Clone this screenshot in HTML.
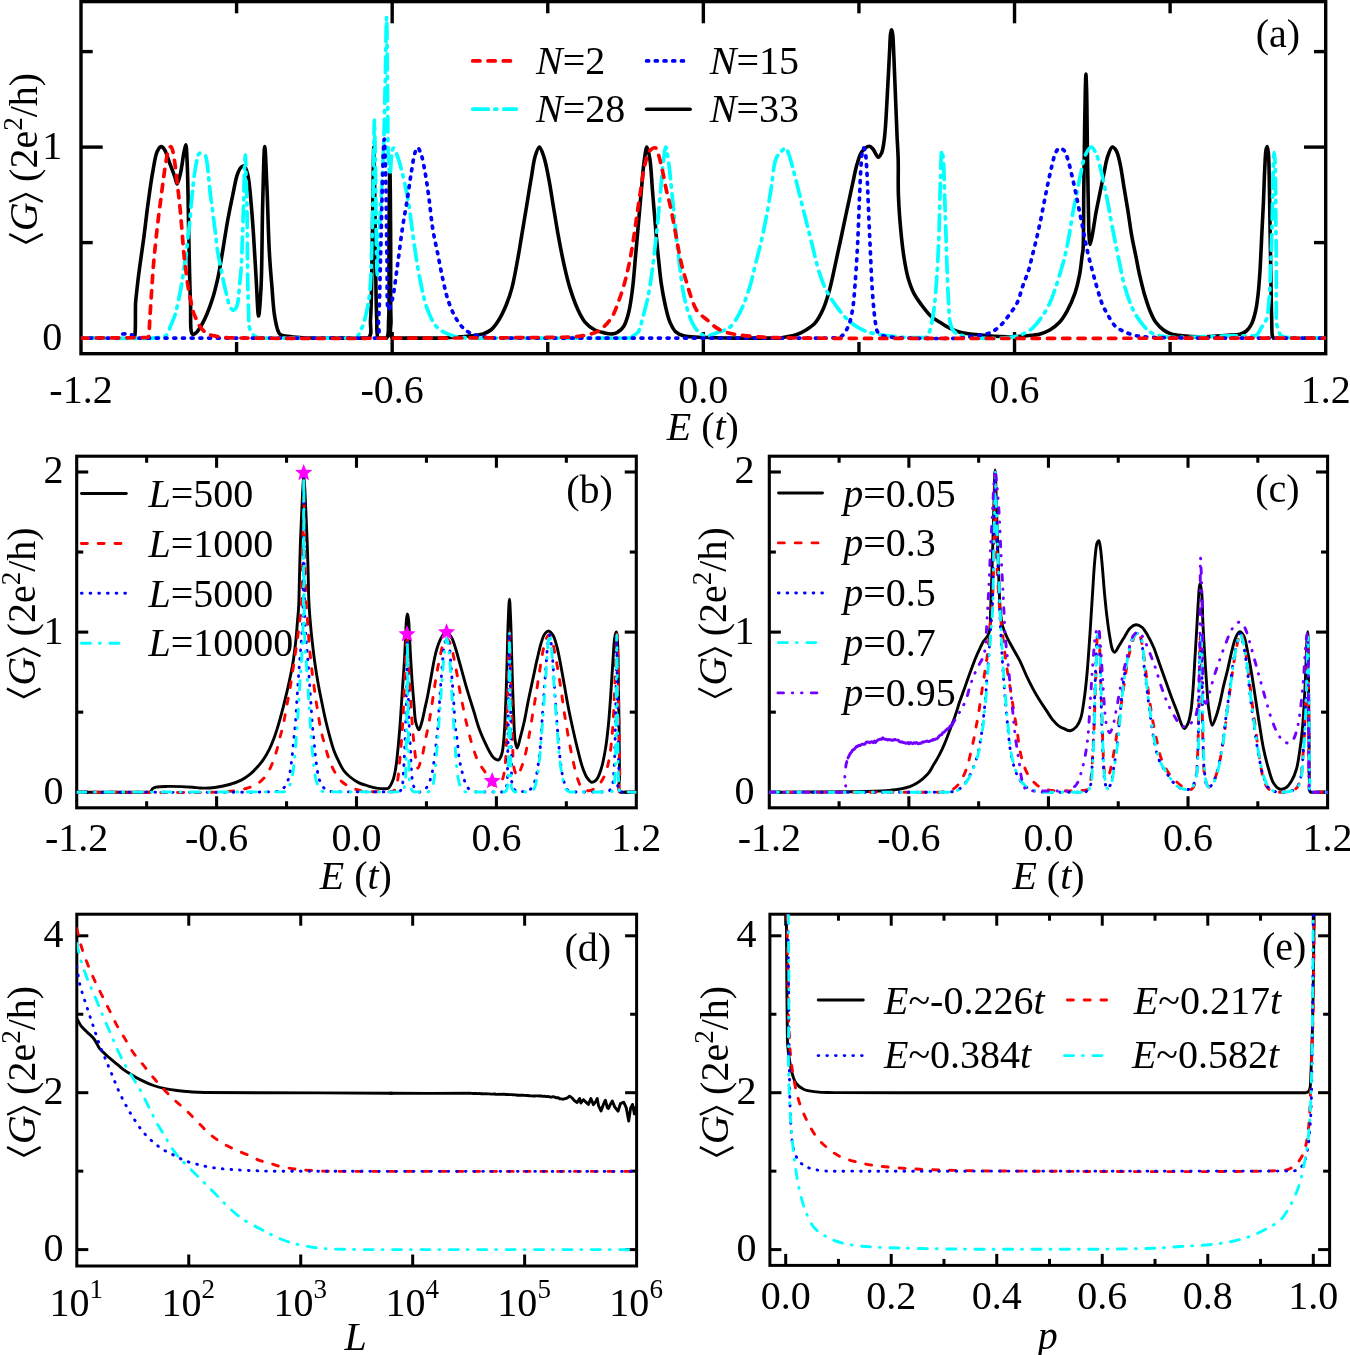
<!DOCTYPE html>
<html><head><meta charset="utf-8"><style>
html,body{margin:0;padding:0;background:#fff;}
svg{display:block;will-change:transform;}
text{font-family:"Liberation Serif",serif;fill:#000;}
</style></head><body>
<svg width="1350" height="1355" viewBox="0 0 1350 1355">
<rect width="1350" height="1355" fill="#fff"/>
<line x1="236.59" y1="353.70" x2="236.59" y2="342.00" stroke="#000" stroke-width="3.4" />
<line x1="236.59" y1="1.60" x2="236.59" y2="13.30" stroke="#000" stroke-width="3.4" />
<line x1="392.18" y1="353.70" x2="392.18" y2="332.00" stroke="#000" stroke-width="3.4" />
<line x1="392.18" y1="1.60" x2="392.18" y2="23.30" stroke="#000" stroke-width="3.4" />
<line x1="547.76" y1="353.70" x2="547.76" y2="342.00" stroke="#000" stroke-width="3.4" />
<line x1="547.76" y1="1.60" x2="547.76" y2="13.30" stroke="#000" stroke-width="3.4" />
<line x1="703.35" y1="353.70" x2="703.35" y2="332.00" stroke="#000" stroke-width="3.4" />
<line x1="703.35" y1="1.60" x2="703.35" y2="23.30" stroke="#000" stroke-width="3.4" />
<line x1="858.94" y1="353.70" x2="858.94" y2="342.00" stroke="#000" stroke-width="3.4" />
<line x1="858.94" y1="1.60" x2="858.94" y2="13.30" stroke="#000" stroke-width="3.4" />
<line x1="1014.53" y1="353.70" x2="1014.53" y2="332.00" stroke="#000" stroke-width="3.4" />
<line x1="1014.53" y1="1.60" x2="1014.53" y2="23.30" stroke="#000" stroke-width="3.4" />
<line x1="1170.11" y1="353.70" x2="1170.11" y2="342.00" stroke="#000" stroke-width="3.4" />
<line x1="1170.11" y1="1.60" x2="1170.11" y2="13.30" stroke="#000" stroke-width="3.4" />
<line x1="81.00" y1="338.10" x2="102.70" y2="338.10" stroke="#000" stroke-width="3.4" />
<line x1="1325.70" y1="338.10" x2="1304.00" y2="338.10" stroke="#000" stroke-width="3.4" />
<line x1="81.00" y1="242.60" x2="92.70" y2="242.60" stroke="#000" stroke-width="3.4" />
<line x1="1325.70" y1="242.60" x2="1314.00" y2="242.60" stroke="#000" stroke-width="3.4" />
<line x1="81.00" y1="147.10" x2="102.70" y2="147.10" stroke="#000" stroke-width="3.4" />
<line x1="1325.70" y1="147.10" x2="1304.00" y2="147.10" stroke="#000" stroke-width="3.4" />
<line x1="81.00" y1="51.60" x2="92.70" y2="51.60" stroke="#000" stroke-width="3.4" />
<line x1="1325.70" y1="51.60" x2="1314.00" y2="51.60" stroke="#000" stroke-width="3.4" />
<line x1="146.65" y1="807.80" x2="146.65" y2="801.25" stroke="#000" stroke-width="3.1" />
<line x1="146.65" y1="456.20" x2="146.65" y2="462.75" stroke="#000" stroke-width="3.1" />
<line x1="216.60" y1="807.80" x2="216.60" y2="796.25" stroke="#000" stroke-width="3.1" />
<line x1="216.60" y1="456.20" x2="216.60" y2="467.75" stroke="#000" stroke-width="3.1" />
<line x1="286.55" y1="807.80" x2="286.55" y2="801.25" stroke="#000" stroke-width="3.1" />
<line x1="286.55" y1="456.20" x2="286.55" y2="462.75" stroke="#000" stroke-width="3.1" />
<line x1="356.50" y1="807.80" x2="356.50" y2="796.25" stroke="#000" stroke-width="3.1" />
<line x1="356.50" y1="456.20" x2="356.50" y2="467.75" stroke="#000" stroke-width="3.1" />
<line x1="426.45" y1="807.80" x2="426.45" y2="801.25" stroke="#000" stroke-width="3.1" />
<line x1="426.45" y1="456.20" x2="426.45" y2="462.75" stroke="#000" stroke-width="3.1" />
<line x1="496.40" y1="807.80" x2="496.40" y2="796.25" stroke="#000" stroke-width="3.1" />
<line x1="496.40" y1="456.20" x2="496.40" y2="467.75" stroke="#000" stroke-width="3.1" />
<line x1="566.35" y1="807.80" x2="566.35" y2="801.25" stroke="#000" stroke-width="3.1" />
<line x1="566.35" y1="456.20" x2="566.35" y2="462.75" stroke="#000" stroke-width="3.1" />
<line x1="76.70" y1="792.20" x2="88.25" y2="792.20" stroke="#000" stroke-width="3.1" />
<line x1="636.30" y1="792.20" x2="624.75" y2="792.20" stroke="#000" stroke-width="3.1" />
<line x1="76.70" y1="712.15" x2="83.25" y2="712.15" stroke="#000" stroke-width="3.1" />
<line x1="636.30" y1="712.15" x2="629.75" y2="712.15" stroke="#000" stroke-width="3.1" />
<line x1="76.70" y1="632.10" x2="88.25" y2="632.10" stroke="#000" stroke-width="3.1" />
<line x1="636.30" y1="632.10" x2="624.75" y2="632.10" stroke="#000" stroke-width="3.1" />
<line x1="76.70" y1="552.05" x2="83.25" y2="552.05" stroke="#000" stroke-width="3.1" />
<line x1="636.30" y1="552.05" x2="629.75" y2="552.05" stroke="#000" stroke-width="3.1" />
<line x1="76.70" y1="472.00" x2="88.25" y2="472.00" stroke="#000" stroke-width="3.1" />
<line x1="636.30" y1="472.00" x2="624.75" y2="472.00" stroke="#000" stroke-width="3.1" />
<line x1="839.09" y1="807.80" x2="839.09" y2="801.25" stroke="#000" stroke-width="3.1" />
<line x1="839.09" y1="456.20" x2="839.09" y2="462.75" stroke="#000" stroke-width="3.1" />
<line x1="908.88" y1="807.80" x2="908.88" y2="796.25" stroke="#000" stroke-width="3.1" />
<line x1="908.88" y1="456.20" x2="908.88" y2="467.75" stroke="#000" stroke-width="3.1" />
<line x1="978.66" y1="807.80" x2="978.66" y2="801.25" stroke="#000" stroke-width="3.1" />
<line x1="978.66" y1="456.20" x2="978.66" y2="462.75" stroke="#000" stroke-width="3.1" />
<line x1="1048.45" y1="807.80" x2="1048.45" y2="796.25" stroke="#000" stroke-width="3.1" />
<line x1="1048.45" y1="456.20" x2="1048.45" y2="467.75" stroke="#000" stroke-width="3.1" />
<line x1="1118.24" y1="807.80" x2="1118.24" y2="801.25" stroke="#000" stroke-width="3.1" />
<line x1="1118.24" y1="456.20" x2="1118.24" y2="462.75" stroke="#000" stroke-width="3.1" />
<line x1="1188.02" y1="807.80" x2="1188.02" y2="796.25" stroke="#000" stroke-width="3.1" />
<line x1="1188.02" y1="456.20" x2="1188.02" y2="467.75" stroke="#000" stroke-width="3.1" />
<line x1="1257.81" y1="807.80" x2="1257.81" y2="801.25" stroke="#000" stroke-width="3.1" />
<line x1="1257.81" y1="456.20" x2="1257.81" y2="462.75" stroke="#000" stroke-width="3.1" />
<line x1="769.30" y1="792.20" x2="780.85" y2="792.20" stroke="#000" stroke-width="3.1" />
<line x1="1327.60" y1="792.20" x2="1316.05" y2="792.20" stroke="#000" stroke-width="3.1" />
<line x1="769.30" y1="712.15" x2="775.85" y2="712.15" stroke="#000" stroke-width="3.1" />
<line x1="1327.60" y1="712.15" x2="1321.05" y2="712.15" stroke="#000" stroke-width="3.1" />
<line x1="769.30" y1="632.10" x2="780.85" y2="632.10" stroke="#000" stroke-width="3.1" />
<line x1="1327.60" y1="632.10" x2="1316.05" y2="632.10" stroke="#000" stroke-width="3.1" />
<line x1="769.30" y1="552.05" x2="775.85" y2="552.05" stroke="#000" stroke-width="3.1" />
<line x1="1327.60" y1="552.05" x2="1321.05" y2="552.05" stroke="#000" stroke-width="3.1" />
<line x1="769.30" y1="472.00" x2="780.85" y2="472.00" stroke="#000" stroke-width="3.1" />
<line x1="1327.60" y1="472.00" x2="1316.05" y2="472.00" stroke="#000" stroke-width="3.1" />
<line x1="188.76" y1="1266.00" x2="188.76" y2="1254.50" stroke="#000" stroke-width="3.0" />
<line x1="188.76" y1="914.20" x2="188.76" y2="925.70" stroke="#000" stroke-width="3.0" />
<line x1="300.72" y1="1266.00" x2="300.72" y2="1254.50" stroke="#000" stroke-width="3.0" />
<line x1="300.72" y1="914.20" x2="300.72" y2="925.70" stroke="#000" stroke-width="3.0" />
<line x1="412.68" y1="1266.00" x2="412.68" y2="1254.50" stroke="#000" stroke-width="3.0" />
<line x1="412.68" y1="914.20" x2="412.68" y2="925.70" stroke="#000" stroke-width="3.0" />
<line x1="524.64" y1="1266.00" x2="524.64" y2="1254.50" stroke="#000" stroke-width="3.0" />
<line x1="524.64" y1="914.20" x2="524.64" y2="925.70" stroke="#000" stroke-width="3.0" />
<line x1="76.80" y1="1249.60" x2="88.30" y2="1249.60" stroke="#000" stroke-width="3.0" />
<line x1="636.60" y1="1249.60" x2="625.10" y2="1249.60" stroke="#000" stroke-width="3.0" />
<line x1="76.80" y1="1171.15" x2="83.30" y2="1171.15" stroke="#000" stroke-width="3.0" />
<line x1="636.60" y1="1171.15" x2="630.10" y2="1171.15" stroke="#000" stroke-width="3.0" />
<line x1="76.80" y1="1092.70" x2="88.30" y2="1092.70" stroke="#000" stroke-width="3.0" />
<line x1="636.60" y1="1092.70" x2="625.10" y2="1092.70" stroke="#000" stroke-width="3.0" />
<line x1="76.80" y1="1014.25" x2="83.30" y2="1014.25" stroke="#000" stroke-width="3.0" />
<line x1="636.60" y1="1014.25" x2="630.10" y2="1014.25" stroke="#000" stroke-width="3.0" />
<line x1="76.80" y1="935.80" x2="88.30" y2="935.80" stroke="#000" stroke-width="3.0" />
<line x1="636.60" y1="935.80" x2="625.10" y2="935.80" stroke="#000" stroke-width="3.0" />
<line x1="785.70" y1="1265.40" x2="785.70" y2="1253.90" stroke="#000" stroke-width="3.0" />
<line x1="785.70" y1="914.20" x2="785.70" y2="925.70" stroke="#000" stroke-width="3.0" />
<line x1="838.46" y1="1265.40" x2="838.46" y2="1258.90" stroke="#000" stroke-width="3.0" />
<line x1="838.46" y1="914.20" x2="838.46" y2="920.70" stroke="#000" stroke-width="3.0" />
<line x1="891.22" y1="1265.40" x2="891.22" y2="1253.90" stroke="#000" stroke-width="3.0" />
<line x1="891.22" y1="914.20" x2="891.22" y2="925.70" stroke="#000" stroke-width="3.0" />
<line x1="943.98" y1="1265.40" x2="943.98" y2="1258.90" stroke="#000" stroke-width="3.0" />
<line x1="943.98" y1="914.20" x2="943.98" y2="920.70" stroke="#000" stroke-width="3.0" />
<line x1="996.74" y1="1265.40" x2="996.74" y2="1253.90" stroke="#000" stroke-width="3.0" />
<line x1="996.74" y1="914.20" x2="996.74" y2="925.70" stroke="#000" stroke-width="3.0" />
<line x1="1049.50" y1="1265.40" x2="1049.50" y2="1258.90" stroke="#000" stroke-width="3.0" />
<line x1="1049.50" y1="914.20" x2="1049.50" y2="920.70" stroke="#000" stroke-width="3.0" />
<line x1="1102.26" y1="1265.40" x2="1102.26" y2="1253.90" stroke="#000" stroke-width="3.0" />
<line x1="1102.26" y1="914.20" x2="1102.26" y2="925.70" stroke="#000" stroke-width="3.0" />
<line x1="1155.02" y1="1265.40" x2="1155.02" y2="1258.90" stroke="#000" stroke-width="3.0" />
<line x1="1155.02" y1="914.20" x2="1155.02" y2="920.70" stroke="#000" stroke-width="3.0" />
<line x1="1207.78" y1="1265.40" x2="1207.78" y2="1253.90" stroke="#000" stroke-width="3.0" />
<line x1="1207.78" y1="914.20" x2="1207.78" y2="925.70" stroke="#000" stroke-width="3.0" />
<line x1="1260.54" y1="1265.40" x2="1260.54" y2="1258.90" stroke="#000" stroke-width="3.0" />
<line x1="1260.54" y1="914.20" x2="1260.54" y2="920.70" stroke="#000" stroke-width="3.0" />
<line x1="1313.30" y1="1265.40" x2="1313.30" y2="1253.90" stroke="#000" stroke-width="3.0" />
<line x1="1313.30" y1="914.20" x2="1313.30" y2="925.70" stroke="#000" stroke-width="3.0" />
<line x1="769.90" y1="1249.60" x2="781.40" y2="1249.60" stroke="#000" stroke-width="3.0" />
<line x1="1329.60" y1="1249.60" x2="1318.10" y2="1249.60" stroke="#000" stroke-width="3.0" />
<line x1="769.90" y1="1171.15" x2="776.40" y2="1171.15" stroke="#000" stroke-width="3.0" />
<line x1="1329.60" y1="1171.15" x2="1323.10" y2="1171.15" stroke="#000" stroke-width="3.0" />
<line x1="769.90" y1="1092.70" x2="781.40" y2="1092.70" stroke="#000" stroke-width="3.0" />
<line x1="1329.60" y1="1092.70" x2="1318.10" y2="1092.70" stroke="#000" stroke-width="3.0" />
<line x1="769.90" y1="1014.25" x2="776.40" y2="1014.25" stroke="#000" stroke-width="3.0" />
<line x1="1329.60" y1="1014.25" x2="1323.10" y2="1014.25" stroke="#000" stroke-width="3.0" />
<line x1="769.90" y1="935.80" x2="781.40" y2="935.80" stroke="#000" stroke-width="3.0" />
<line x1="1329.60" y1="935.80" x2="1318.10" y2="935.80" stroke="#000" stroke-width="3.0" />
<rect x="81.00" y="1.60" width="1244.70" height="352.10" fill="none" stroke="#000" stroke-width="3.4"/>
<rect x="76.70" y="456.20" width="559.60" height="351.60" fill="none" stroke="#000" stroke-width="3.1"/>
<rect x="769.30" y="456.20" width="558.30" height="351.60" fill="none" stroke="#000" stroke-width="3.1"/>
<rect x="76.80" y="914.20" width="559.80" height="351.80" fill="none" stroke="#000" stroke-width="3.0"/>
<rect x="769.90" y="914.20" width="559.70" height="351.20" fill="none" stroke="#000" stroke-width="3.0"/>
<defs><clipPath id="cA"><rect x="81.00" y="1.60" width="1244.70" height="352.10"/></clipPath><clipPath id="cB"><rect x="76.70" y="456.20" width="559.60" height="351.60"/></clipPath><clipPath id="cC"><rect x="769.30" y="456.20" width="558.30" height="351.60"/></clipPath><clipPath id="cD"><rect x="76.80" y="914.20" width="559.80" height="351.80"/></clipPath><clipPath id="cE"><rect x="769.90" y="914.20" width="559.70" height="351.20"/></clipPath></defs>
<path d="M133.8,338.1C134.1,337.4 134.5,337.1 134.8,335.9C135.9,331.5 135.1,311.9 135.6,302.7C136.1,296.2 136.7,291.9 137.3,286.1C138.0,279.8 138.8,273.5 139.8,266.2C141.0,257.2 142.6,246.5 144.0,236.3C145.4,225.5 146.6,214.1 148.1,203.1C149.6,192.0 151.3,179.2 153.1,169.8C154.4,162.8 155.3,155.6 157.2,151.6C158.3,149.2 159.7,146.7 161.1,146.6C162.2,146.5 163.6,148.2 164.7,149.9C166.6,152.7 168.0,158.8 169.7,163.2C171.4,167.6 173.3,172.7 174.7,176.5C175.7,179.3 176.3,184.0 177.2,184.0C178.2,183.9 179.5,177.3 180.5,173.2C181.8,167.6 182.8,158.4 183.8,153.2C184.5,149.8 185.3,144.9 185.8,144.9C186.5,145.0 186.8,154.0 187.1,161.5C188.0,177.5 188.2,212.1 188.8,236.3C189.3,259.1 189.7,284.7 190.5,302.7C191.0,315.2 189.7,332.6 192.5,334.3C193.5,334.9 195.0,333.7 196.3,332.6C198.5,330.8 200.8,326.7 202.9,322.7C205.8,317.3 208.8,309.8 211.2,302.7C213.9,295.0 216.0,286.4 217.9,277.8C219.9,268.7 221.2,259.1 222.9,249.6C224.5,239.7 226.1,229.2 227.8,219.7C229.4,211.0 231.1,202.7 232.8,194.8C234.4,187.3 235.7,178.2 237.8,173.2C239.0,170.2 240.5,167.3 242.0,166.5C242.8,166.1 243.7,166.0 244.5,166.5C245.9,167.5 246.8,171.1 247.8,174.8C249.4,181.4 250.2,193.3 251.1,203.1C252.1,213.7 252.8,224.6 253.6,236.3C254.5,249.3 255.2,264.3 256.1,277.8C256.9,290.8 257.7,316.0 258.6,316.0C259.4,316.0 260.4,298.6 261.1,286.1C262.1,265.4 262.0,228.1 262.7,203.1C263.3,182.4 263.9,146.6 264.7,146.6C265.4,146.6 266.2,171.5 266.9,186.4C267.8,205.8 268.3,234.6 269.4,252.9C270.1,265.9 270.9,275.0 271.9,286.1C272.8,297.2 273.3,310.5 275.2,319.3C276.4,325.4 277.2,331.7 280.0,334.3C282.0,336.2 285.0,335.8 288.0,336.3C291.6,336.9 295.5,337.3 300.0,337.6C305.8,338.0 311.9,338.0 320.0,338.1L368.5,338.1C372.7,334.4 370.0,327.8 370.5,320.0C371.5,305.8 371.6,280.8 372.0,260.0C372.4,237.6 372.7,210.5 373.0,190.0C373.3,173.9 373.5,147.0 373.8,147.0C374.1,147.0 374.4,173.9 374.7,190.0C375.0,210.5 375.2,237.6 375.6,260.0C375.9,280.8 376.0,305.8 376.8,320.0C377.2,327.8 375.9,335.7 378.5,338.1L386.5,338.1C389.2,335.7 388.1,328.0 388.6,320.0C389.6,304.3 388.9,272.4 389.0,250.0C389.1,229.2 389.2,204.9 389.4,190.0C389.5,181.2 389.7,169.0 389.9,169.0C390.0,169.0 390.2,181.2 390.3,190.0C390.5,204.9 390.6,229.2 390.7,250.0C390.8,272.4 390.3,304.3 391.0,320.0C391.3,328.0 388.5,334.4 392.5,338.1L440.0,338.1C448.1,337.8 454.2,337.2 460.0,336.8C464.4,336.4 467.7,336.3 471.6,335.8C475.4,335.3 479.7,335.0 483.1,333.9C486.0,332.9 488.5,331.9 490.8,330.0C493.7,327.7 496.1,324.1 498.5,320.4C501.4,316.0 504.0,310.3 506.2,305.0C508.5,299.4 510.3,294.2 512.0,287.6C514.2,279.3 516.1,267.8 517.8,258.7C519.3,250.6 520.3,243.7 521.7,235.6C523.2,226.5 524.9,216.3 526.5,206.7C528.1,197.1 529.7,186.7 531.3,177.8C532.6,170.2 533.4,162.2 535.1,156.6C536.3,152.7 537.9,147.0 539.4,147.0C540.8,147.0 542.5,152.7 543.8,156.6C545.7,162.2 547.1,170.2 548.6,177.8C550.4,186.7 551.8,197.1 553.4,206.7C555.1,216.3 556.5,226.0 558.3,235.6C560.0,245.3 562.0,255.4 564.0,264.5C565.9,272.7 567.5,280.1 569.8,287.6C572.1,294.9 574.7,302.7 577.5,308.8C579.9,313.9 582.1,318.7 585.2,322.3C588.0,325.6 591.5,328.2 594.9,330.0C597.9,331.6 601.5,332.3 604.5,332.9C607.2,333.5 609.9,334.1 612.2,333.9C614.3,333.7 616.2,333.1 618.0,331.9C620.1,330.7 622.2,328.7 623.8,326.2C625.9,322.8 627.3,317.8 628.6,312.7C630.3,306.1 631.4,297.8 632.4,289.6C633.7,280.0 634.4,269.2 635.3,258.7C636.3,248.0 637.3,236.9 638.2,226.0C639.2,215.1 640.1,204.0 641.1,193.2C642.1,182.8 642.8,170.9 644.0,162.4C644.9,156.3 645.9,147.0 646.9,147.0C647.8,146.9 649.0,153.6 649.8,158.5C651.2,167.0 651.7,181.7 652.7,193.2C653.6,204.8 654.6,216.7 655.6,227.9C656.5,238.5 657.4,249.0 658.5,258.7C659.4,267.5 660.2,275.8 661.3,283.8C662.4,291.2 663.7,298.3 665.2,305.0C666.6,311.1 667.9,317.5 670.0,322.3C671.7,326.1 673.3,329.7 675.8,331.9C678.0,333.9 680.9,335.0 683.5,335.8C686.0,336.6 687.6,336.5 691.2,336.8C699.8,337.4 720.3,337.9 735.0,338.1L780.0,338.1C783.2,337.8 784.3,337.2 786.7,336.8C789.6,336.2 793.2,335.9 796.3,334.8C799.6,333.7 802.9,332.0 806.0,330.0C809.3,327.9 812.8,325.6 815.6,322.3C818.7,318.7 821.1,313.7 823.3,308.8C825.7,303.5 827.3,297.8 829.1,291.5C831.2,283.9 833.0,274.9 834.9,266.4C836.8,257.6 838.7,248.5 840.7,239.5C842.6,230.5 844.5,221.5 846.4,212.5C848.4,203.5 850.4,194.0 852.2,185.5C853.9,178.0 855.2,170.4 857.0,164.3C858.5,159.5 859.5,154.9 861.8,151.8C863.8,149.2 867.3,146.1 869.4,146.2C870.9,146.3 872.0,148.1 873.3,149.5C875.0,151.5 876.7,157.2 878.3,157.3C879.5,157.3 880.7,154.7 881.6,152.9C882.8,150.3 883.2,146.7 883.8,142.9C884.6,138.1 885.0,132.5 885.5,126.3C886.1,118.2 886.6,107.8 887.1,98.6C887.6,89.4 888.1,79.6 888.6,70.9C889.0,63.1 889.3,55.6 889.7,48.8C890.0,42.8 890.1,35.1 890.8,32.1C891.0,31.0 891.4,29.9 891.7,29.9C892.0,30.0 892.4,32.3 892.7,34.4C893.3,38.6 893.4,47.1 893.8,54.3C894.2,62.8 894.5,72.8 894.9,82.0C895.3,91.2 895.6,100.4 896.0,109.7C896.4,118.9 896.7,128.6 897.1,137.4C897.5,145.3 898.0,151.6 898.2,160.1C898.5,170.9 897.9,184.6 898.5,197.1C899.0,209.8 900.2,224.4 901.3,235.6C902.2,244.3 903.0,251.4 904.2,258.7C905.3,265.5 906.4,272.0 908.1,278.0C909.7,283.5 911.5,288.8 913.9,293.4C916.1,297.7 918.8,301.2 921.6,305.0C924.5,308.9 927.8,313.5 931.2,316.5C934.0,319.0 937.0,320.4 940.0,322.3C943.1,324.3 946.4,326.5 949.6,328.1C952.8,329.7 955.4,330.9 959.3,331.9C964.5,333.4 971.4,334.1 978.5,334.8C987.2,335.8 998.8,336.7 1007.4,336.8C1014.5,336.8 1020.9,336.4 1026.7,335.8C1031.6,335.3 1036.1,335.0 1040.2,333.9C1043.7,332.9 1046.7,331.8 1049.8,330.0C1053.2,328.1 1056.6,325.4 1059.5,322.3C1062.5,319.0 1064.8,315.1 1067.2,310.8C1070.0,305.7 1072.8,299.4 1074.9,293.4C1077.0,287.2 1078.5,280.6 1079.7,274.1C1080.9,267.8 1081.6,259.2 1082.2,254.9C1082.5,252.7 1082.8,252.5 1083.0,250.0C1083.8,241.1 1083.5,210.0 1083.8,190.0C1084.1,170.0 1084.3,148.0 1084.6,130.0C1084.8,115.3 1085.0,100.3 1085.3,90.0C1085.5,83.5 1085.7,74.0 1085.9,74.0C1086.1,74.0 1086.4,83.0 1086.6,90.0C1087.0,103.6 1087.1,130.4 1087.4,150.0C1087.7,168.7 1088.0,189.0 1088.3,205.0C1088.6,217.4 1088.6,231.2 1089.2,238.0C1089.4,241.0 1089.7,244.5 1090.1,244.5C1090.6,244.5 1091.5,239.3 1092.2,235.6C1093.4,229.7 1094.7,219.8 1096.0,212.5C1097.2,205.8 1098.6,199.6 1099.9,193.2C1101.2,186.8 1102.5,180.2 1103.8,174.0C1105.1,168.1 1105.9,161.5 1107.6,156.6C1108.9,152.8 1110.7,147.3 1112.4,147.0C1113.7,146.8 1115.2,149.0 1116.3,150.8C1118.1,153.8 1119.0,159.2 1120.2,164.3C1121.7,171.0 1122.7,179.7 1124.0,187.4C1125.3,195.1 1126.6,202.7 1127.9,210.6C1129.2,218.7 1130.3,227.8 1131.7,235.6C1132.9,242.5 1134.3,248.5 1135.6,254.9C1136.9,261.3 1138.0,267.7 1139.4,274.1C1140.9,280.6 1142.4,287.2 1144.2,293.4C1146.0,299.4 1147.9,305.6 1150.0,310.8C1151.8,315.1 1153.4,319.0 1155.8,322.3C1158.0,325.3 1160.8,328.0 1163.5,330.0C1165.9,331.8 1168.3,332.9 1171.2,333.9C1174.6,335.0 1178.5,335.3 1182.8,335.8C1188.0,336.4 1193.6,336.8 1200.1,336.8C1208.7,336.8 1222.6,335.6 1229.8,335.1C1234.0,334.8 1236.9,335.1 1239.8,334.3C1242.3,333.6 1244.5,332.6 1246.4,331.0C1248.5,329.3 1250.0,327.1 1251.4,324.3C1253.2,320.8 1254.5,315.8 1255.6,311.0C1256.8,305.8 1257.4,300.5 1258.1,294.4C1258.9,287.0 1259.5,278.4 1260.1,269.5C1260.7,259.2 1261.2,247.4 1261.7,236.3C1262.3,225.2 1262.9,214.1 1263.4,203.1C1263.9,192.0 1264.2,179.5 1264.7,169.8C1265.1,162.3 1265.3,153.7 1266.0,149.9C1266.4,148.3 1266.9,146.6 1267.2,146.6C1267.7,146.6 1268.1,150.1 1268.4,153.2C1269.1,160.1 1269.1,174.3 1269.4,186.4C1269.7,201.4 1269.9,219.7 1270.2,236.3C1270.5,252.9 1270.8,271.2 1271.0,286.1C1271.3,298.3 1271.4,310.2 1271.7,319.3C1271.9,325.8 1271.6,333.1 1272.4,335.9C1272.7,337.1 1273.1,337.4 1273.5,338.1" fill="none" stroke="#000000" stroke-width="3.6" stroke-linecap="round" stroke-linejoin="round" clip-path="url(#cA)"/>
<path d="M81.0,338.1C108.4,337.7 153.1,339.6 163.1,336.8C165.5,336.1 166.1,335.6 167.2,334.3C168.8,332.5 169.4,328.9 170.5,326.0C171.8,322.8 173.5,319.6 174.7,316.0C176.0,311.9 177.0,307.4 178.0,302.7C179.2,297.5 180.4,291.7 181.3,286.1C182.3,280.6 183.0,275.0 183.8,269.5C184.7,264.0 185.6,258.4 186.3,252.9C187.0,247.4 187.4,241.5 188.0,236.3C188.5,231.6 189.1,227.9 189.6,223.0C190.3,217.0 190.7,209.4 191.3,203.1C191.8,197.3 192.4,191.7 193.0,186.4C193.5,181.8 194.0,177.3 194.6,173.2C195.1,169.6 195.7,166.3 196.3,163.2C196.8,160.5 197.2,157.5 197.9,155.7C198.4,154.6 198.8,153.5 199.6,153.2C200.4,152.9 201.9,153.6 202.9,154.1C203.9,154.5 204.8,154.8 205.4,155.7C206.4,157.2 206.6,160.3 207.1,163.2C207.8,167.3 208.2,173.0 208.7,178.1C209.3,183.5 209.7,189.1 210.4,194.8C211.1,200.7 212.1,206.8 212.9,213.0C213.7,219.5 214.6,226.3 215.4,233.0C216.2,239.6 216.8,246.6 217.9,252.9C218.8,258.7 220.1,264.0 221.2,269.5C222.3,275.0 223.4,281.3 224.5,286.1C225.4,289.9 226.2,292.8 227.0,296.1C227.8,299.4 228.4,303.7 229.5,306.0C230.2,307.5 231.2,308.7 232.0,309.4C232.5,309.8 233.1,310.3 233.7,310.2C234.4,310.1 235.5,308.8 236.1,307.7C237.0,306.4 237.3,304.9 237.8,302.7C238.6,298.8 238.9,291.7 239.5,286.1C240.0,280.6 240.7,276.0 241.1,269.5C241.8,260.3 242.0,247.4 242.5,236.3C242.9,225.2 243.3,214.1 243.6,203.1C244.0,192.0 244.1,178.7 244.5,169.8C244.7,163.9 245.0,154.9 245.3,154.9C245.6,154.9 245.8,170.3 246.1,178.1C246.4,186.3 246.7,193.3 246.9,203.1C247.2,216.8 247.3,238.0 247.4,252.9C247.6,265.1 247.6,275.8 247.8,286.1C248.0,295.0 248.3,303.6 248.6,311.0C248.9,317.1 248.4,323.8 249.4,327.6C250.0,329.9 251.0,331.2 251.9,332.6C252.7,333.9 253.3,335.1 254.4,335.9C255.8,337.0 256.9,337.5 260.0,338.1L356.0,338.1C357.8,337.2 357.6,336.4 358.5,335.0C359.9,332.7 361.7,328.7 363.0,325.0C364.6,320.6 365.9,315.4 367.0,310.0C368.3,303.8 369.2,298.2 370.0,290.0C371.2,277.1 371.4,258.1 372.0,240.0C372.7,218.6 373.1,191.4 373.5,170.0C373.9,151.9 374.1,120.0 374.4,120.0C374.7,120.0 375.1,151.9 375.4,170.0C375.8,191.4 375.9,220.7 376.3,240.0C376.6,253.7 376.9,275.0 377.3,275.0C377.6,275.0 378.0,259.8 378.5,250.0C379.2,236.2 380.2,216.7 381.0,200.0C381.8,183.3 382.8,168.1 383.5,150.0C384.3,128.6 384.8,102.7 385.3,80.0C385.8,58.4 386.2,17.0 386.6,17.0C387.0,17.0 387.3,74.6 387.6,100.0C387.9,121.6 387.7,146.7 388.5,160.0C388.9,166.7 389.5,175.0 390.0,175.0C390.6,175.0 391.0,156.5 392.0,152.0C392.4,150.1 392.8,148.0 393.4,148.0C394.3,147.9 395.8,152.1 397.0,155.0C398.8,159.5 400.6,166.2 402.3,173.0C404.5,181.8 406.9,192.8 408.7,203.6C410.7,215.6 411.9,229.0 413.8,241.7C415.7,254.4 417.6,267.9 420.1,279.9C422.3,290.7 424.3,301.8 427.8,310.4C430.6,317.3 433.4,323.9 437.9,328.2C442.0,332.1 448.0,334.3 453.2,335.9C458.2,337.5 460.7,337.5 468.5,338.1L630.0,338.1C632.2,337.4 632.2,336.7 633.4,335.8C634.9,334.7 636.9,334.0 638.2,331.9C640.4,328.7 641.5,322.0 643.0,316.5C644.7,310.5 646.5,304.0 647.9,297.3C649.4,289.9 650.6,281.9 651.7,274.1C652.8,266.4 653.7,259.0 654.6,251.0C655.6,242.4 656.6,233.3 657.5,224.0C658.5,214.1 659.4,203.5 660.4,193.2C661.3,182.9 662.2,170.9 663.3,162.4C664.0,156.4 664.9,147.0 665.8,147.0C666.5,147.0 667.4,153.9 668.1,158.5C669.2,165.3 670.1,174.9 671.0,183.6C672.0,192.9 672.9,202.9 673.9,212.5C674.8,222.1 675.8,232.1 676.8,241.4C677.7,250.0 678.6,257.9 679.7,266.4C680.8,275.3 681.9,285.2 683.5,293.4C684.9,300.4 686.4,306.9 688.3,312.7C690.0,317.6 691.8,322.4 694.1,326.2C696.1,329.3 698.3,332.1 700.8,333.9C703.2,335.5 707.2,337.0 708.6,336.8C709.1,336.7 709.0,336.2 709.6,335.8C711.2,334.8 716.1,333.2 719.3,331.9C722.5,330.7 726.1,330.2 728.9,328.1C732.0,325.8 734.3,322.1 736.6,318.5C739.2,314.5 741.3,309.9 743.4,305.0C745.8,299.2 748.1,292.5 750.1,285.7C752.3,278.4 753.9,270.3 755.9,262.6C757.8,254.9 759.9,247.2 761.7,239.5C763.4,231.8 764.9,224.5 766.5,216.3C768.2,207.3 769.7,197.1 771.3,187.4C772.9,177.8 773.4,164.9 776.1,158.5C777.7,154.9 780.0,152.7 781.9,150.8C783.2,149.5 784.7,147.7 785.7,147.9C787.0,148.2 787.6,151.1 788.6,153.7C790.4,158.4 792.5,167.0 794.4,173.9C796.4,181.4 798.3,189.4 800.2,197.1C802.1,204.8 804.0,212.5 806.0,220.2C807.9,227.9 809.8,235.6 811.8,243.3C813.7,251.0 815.5,259.3 817.5,266.4C819.3,272.7 821.2,278.6 823.3,283.8C825.1,288.1 826.9,291.6 829.1,295.3C831.4,299.3 834.0,303.1 836.8,306.9C839.7,310.8 843.0,315.1 846.4,318.5C849.5,321.5 852.6,323.9 856.1,326.2C859.6,328.4 863.5,330.5 867.6,331.9C871.9,333.4 876.5,334.0 881.1,334.8C886.1,335.7 891.4,336.3 896.5,336.8C901.7,337.2 907.0,337.6 911.9,337.7L925.4,337.7C927.5,336.6 928.2,334.3 929.3,331.9C930.7,328.8 931.3,324.7 932.2,320.4C933.2,315.2 934.0,309.6 934.7,303.0C935.6,294.6 936.3,284.5 937.0,274.1C937.8,262.2 938.4,249.8 938.9,235.6C939.6,218.3 939.9,193.4 940.5,177.8C940.9,167.1 941.1,150.9 941.8,150.8C942.2,150.8 942.8,155.0 943.2,158.5C944.0,166.5 944.2,182.9 944.7,197.1C945.3,214.4 946.0,236.5 946.6,254.9C947.2,271.7 947.7,290.2 948.6,303.0C949.1,311.5 949.0,319.0 950.5,324.2C951.4,327.6 952.5,330.2 954.3,331.9C955.9,333.5 957.9,334.0 960.1,334.8C962.7,335.8 964.9,336.8 968.9,337.3C977.2,338.5 997.9,338.7 1007.4,337.7C1013.1,337.2 1016.7,336.5 1020.9,334.8C1025.1,333.2 1029.0,331.0 1032.5,328.1C1036.1,325.0 1039.2,320.7 1042.1,316.5C1045.0,312.3 1047.6,307.8 1049.8,303.0C1052.1,298.2 1053.8,292.8 1055.6,287.6C1057.4,282.5 1058.9,277.5 1060.4,272.2C1062.1,266.6 1063.8,260.8 1065.2,254.9C1066.7,248.6 1067.9,242.3 1069.1,235.6C1070.4,228.3 1071.6,219.8 1072.9,212.5C1074.2,205.8 1075.5,199.6 1076.8,193.2C1078.1,186.8 1079.2,180.4 1080.7,173.9C1082.1,167.5 1083.2,159.5 1085.5,154.7C1087.1,151.3 1089.4,147.0 1091.3,147.0C1092.9,147.0 1094.7,150.8 1096.1,153.7C1098.1,157.9 1099.5,164.5 1100.9,170.1C1102.3,175.8 1103.5,181.5 1104.7,187.4C1106.1,193.7 1107.3,200.1 1108.6,206.7C1109.9,213.6 1111.1,221.0 1112.4,227.9C1113.7,234.5 1115.0,240.7 1116.3,247.2C1117.6,253.6 1118.8,260.2 1120.2,266.4C1121.4,272.4 1122.5,278.2 1124.0,283.8C1125.4,289.1 1127.0,294.3 1128.8,299.2C1130.6,303.9 1132.3,308.5 1134.6,312.7C1136.8,316.8 1139.6,320.9 1142.3,324.2C1144.7,327.2 1147.1,330.0 1150.0,331.9C1152.9,333.8 1156.2,334.9 1159.7,335.8C1163.3,336.7 1165.9,337.0 1171.2,337.3C1183.2,338.0 1214.3,336.1 1229.8,335.9L1255.6,335.9C1258.8,334.2 1259.6,330.4 1261.4,327.6C1263.2,324.9 1265.2,322.7 1266.4,319.3C1268.0,314.9 1268.2,309.2 1268.9,302.7C1269.8,293.6 1270.0,281.7 1270.5,269.5C1271.2,254.6 1271.7,236.9 1272.2,219.7C1272.7,201.0 1273.0,172.5 1273.5,161.5C1273.7,157.2 1273.9,152.4 1274.2,152.4C1274.4,152.4 1274.8,157.2 1275.0,161.5C1275.6,172.5 1275.6,201.0 1275.8,219.7C1276.1,236.9 1276.3,254.6 1276.3,269.5C1276.4,281.7 1276.3,292.8 1276.3,302.7C1276.4,310.7 1275.8,319.2 1276.7,324.3C1277.2,327.2 1278.0,328.9 1278.8,331.0C1279.6,332.8 1279.3,334.7 1281.3,335.9C1286.9,339.6 1310.9,337.4 1325.7,338.1" fill="none" stroke="#00ffff" stroke-width="3.7" stroke-dasharray="15.7 6.3 2.2 6.8" stroke-linecap="round" stroke-linejoin="round" clip-path="url(#cA)"/>
<path d="M81.0,338.1L118.0,338.1C119.9,337.2 119.6,335.2 121.0,334.5C122.5,333.7 125.1,333.9 127.0,334.0C128.7,334.1 130.6,334.3 132.0,335.0C133.3,335.7 132.8,337.2 135.0,338.1L376.0,338.1C381.4,333.4 377.8,327.8 378.5,320.0C379.7,305.8 379.9,281.4 380.5,260.0C381.2,235.2 381.8,202.2 382.5,180.0C383.0,164.1 383.6,139.0 384.2,139.0C384.7,139.0 385.4,164.1 385.8,180.0C386.4,202.2 386.5,236.5 387.0,260.0C387.4,278.6 386.5,309.7 388.5,310.0C389.4,310.1 391.0,304.6 392.1,300.3C394.1,292.6 395.6,278.6 397.2,267.2C399.0,254.9 400.5,241.0 402.3,229.0C403.9,218.2 405.9,208.2 407.4,198.5C408.8,189.6 409.9,181.0 411.2,173.0C412.4,165.8 413.5,157.1 415.0,152.7C415.8,150.4 416.7,147.6 417.6,147.6C418.8,147.6 420.3,152.0 421.4,155.2C423.0,159.8 424.0,166.5 425.2,173.0C426.6,180.7 427.8,189.6 429.0,198.5C430.3,208.2 431.2,219.3 432.8,229.0C434.2,237.9 436.2,246.0 437.9,254.5C439.6,263.0 441.2,271.9 443.0,279.9C444.6,287.1 445.9,293.8 448.1,300.3C450.2,306.5 452.9,313.0 455.8,318.0C458.1,322.0 460.5,325.5 463.4,328.2C466.0,330.7 468.9,332.6 472.0,334.0C475.1,335.4 478.4,335.8 482.0,336.5C486.0,337.2 487.7,337.7 495.0,338.1L830.0,338.1C836.0,337.7 837.9,338.3 840.7,336.8C843.2,335.4 844.9,332.6 846.4,330.0C848.1,327.2 849.2,324.0 850.3,320.4C851.6,315.9 852.4,310.5 853.2,305.0C854.1,298.5 854.5,291.4 855.1,283.8C855.8,274.9 856.5,264.5 857.0,254.9C857.6,245.2 858.0,235.6 858.4,226.0C858.8,216.3 859.1,206.7 859.5,197.1C860.0,187.4 860.3,176.3 860.9,168.2C861.3,162.2 861.5,156.4 862.2,152.8C862.7,150.7 863.3,147.9 863.8,147.9C864.3,147.9 864.9,150.7 865.3,152.8C866.1,156.4 866.3,162.2 866.7,168.2C867.2,176.3 867.6,187.4 868.0,197.1C868.4,206.7 868.8,216.3 869.2,226.0C869.6,235.6 870.1,245.2 870.5,254.9C871.0,264.5 871.3,274.5 871.9,283.8C872.4,292.4 873.1,301.5 873.8,308.8C874.4,314.6 874.9,320.0 875.7,324.2C876.3,327.3 876.3,330.0 877.6,331.9C878.9,333.7 880.9,334.9 883.0,335.8C885.7,336.9 888.0,336.9 892.7,337.3C905.0,338.4 948.0,338.9 960.0,338.1C964.4,337.8 965.6,337.2 968.9,336.8C972.9,336.2 978.3,335.7 982.4,334.8C985.9,334.1 989.0,333.6 992.0,331.9C995.4,330.2 998.8,327.1 1001.7,324.2C1004.5,321.3 1006.9,318.0 1009.4,314.6C1012.0,311.0 1014.9,307.5 1017.1,303.0C1019.5,298.0 1020.9,291.3 1022.9,285.7C1024.7,280.4 1027.0,275.5 1028.6,270.3C1030.2,265.2 1031.2,260.0 1032.5,254.9C1033.8,249.7 1035.1,244.8 1036.3,239.5C1037.7,233.9 1038.9,228.1 1040.2,222.1C1041.5,215.9 1042.8,209.3 1044.0,202.9C1045.3,196.4 1046.6,189.8 1047.9,183.6C1049.2,177.6 1050.4,171.6 1051.8,166.2C1053.0,161.4 1053.9,156.0 1055.6,152.8C1056.7,150.6 1058.0,148.2 1059.5,147.9C1060.9,147.7 1063.0,149.3 1064.3,150.8C1066.1,152.9 1067.0,156.8 1068.1,160.5C1069.6,165.0 1070.7,170.6 1072.0,175.9C1073.3,181.5 1074.6,187.3 1075.8,193.2C1077.2,199.5 1078.4,206.1 1079.7,212.5C1081.0,218.9 1082.3,225.3 1083.5,231.8C1084.8,238.2 1086.0,244.6 1087.4,251.0C1088.8,257.5 1090.6,264.0 1092.2,270.3C1093.8,276.2 1095.4,282.0 1097.0,287.6C1098.6,292.9 1100.0,298.3 1101.8,303.0C1103.5,307.2 1105.4,310.8 1107.6,314.6C1109.9,318.5 1112.2,323.2 1115.3,326.2C1118.1,328.8 1121.5,330.4 1125.0,331.9C1128.6,333.6 1132.3,334.9 1136.5,335.8C1141.2,336.8 1145.4,337.0 1151.9,337.3C1163.5,338.0 1180.2,337.9 1200.0,338.1L1325.7,338.1" fill="none" stroke="#0000ff" stroke-width="3.7" stroke-dasharray="2.0 6.72" stroke-linecap="round" stroke-linejoin="round" clip-path="url(#cA)"/>
<path d="M81.0,338.1C101.7,337.9 134.0,337.9 143.1,337.6C145.7,337.5 147.2,338.0 148.1,337.3C148.8,336.7 148.7,335.7 148.9,334.3C149.4,331.2 149.4,325.0 149.8,319.3C150.2,312.1 150.9,302.7 151.4,294.4C152.0,286.1 152.5,277.5 153.1,269.5C153.7,262.0 154.4,255.0 155.1,247.9C155.8,241.1 156.5,234.5 157.2,228.0C157.9,221.7 158.7,215.5 159.4,209.7C160.1,204.5 160.8,199.6 161.4,194.8C162.0,190.2 162.5,185.7 163.1,181.5C163.6,177.5 164.2,173.6 164.7,169.8C165.3,166.2 165.8,162.3 166.4,159.0C166.9,156.3 167.4,153.7 168.0,151.6C168.5,150.0 169.0,148.2 169.7,147.4C170.1,146.9 170.6,146.4 171.0,146.6C171.7,146.8 172.2,149.2 172.7,150.7C173.2,152.5 173.5,154.3 173.9,156.5C174.4,159.7 175.0,164.0 175.5,168.2C176.1,172.8 176.6,178.3 177.2,183.1C177.7,187.7 178.3,191.7 178.8,196.4C179.4,201.6 180.0,207.2 180.5,213.0C181.1,219.4 181.6,226.3 182.2,233.0C182.7,239.6 183.2,246.6 183.8,252.9C184.4,258.7 185.1,264.0 185.8,269.5C186.5,275.0 187.1,280.9 188.0,286.1C188.7,290.8 189.6,295.1 190.5,299.4C191.3,303.4 191.9,307.5 193.0,311.0C193.9,314.1 195.1,316.7 196.3,319.3C197.3,321.7 198.3,324.0 199.6,326.0C200.8,327.8 202.3,329.5 203.8,331.0C205.1,332.3 206.3,333.5 207.9,334.3C209.8,335.2 212.3,335.4 214.6,335.9C216.8,336.4 218.2,336.9 221.2,337.3C227.4,338.0 235.3,337.9 250.0,338.1C297.9,338.7 515.4,338.0 556.3,337.3C566.6,337.2 570.0,337.3 575.6,336.8C580.0,336.3 583.5,335.7 587.2,334.8C590.6,334.0 593.9,333.4 596.8,331.9C599.7,330.5 602.1,328.5 604.5,326.2C607.3,323.5 610.0,320.2 612.2,316.5C614.6,312.6 616.2,307.9 618.0,303.0C620.0,297.7 622.0,291.7 623.8,285.7C625.6,279.5 627.1,273.4 628.6,266.4C630.4,258.2 632.0,248.5 633.4,239.5C634.9,230.5 636.0,221.3 637.3,212.5C638.5,204.0 639.8,195.6 641.1,187.4C642.4,179.6 643.3,170.9 645.0,164.3C646.3,159.1 647.4,153.5 649.8,150.8C651.4,149.0 654.1,147.4 655.6,147.9C657.1,148.5 657.5,151.9 658.5,154.7C659.8,158.7 661.1,164.7 662.3,170.1C663.7,176.1 664.8,183.3 666.2,189.4C667.4,194.8 668.8,199.3 670.0,204.8C671.4,210.8 672.6,217.5 673.9,224.0C675.2,230.9 676.4,238.3 677.7,245.2C679.0,251.8 680.1,258.3 681.6,264.5C683.0,270.5 684.7,276.3 686.4,281.8C688.0,287.2 689.4,292.3 691.2,297.3C692.9,302.0 694.2,306.9 697.0,310.8C699.7,314.6 704.4,317.5 707.7,320.4C710.5,322.8 712.6,325.2 715.4,327.1C718.3,329.1 721.5,330.7 725.0,331.9C729.1,333.4 733.6,334.1 738.5,334.8C744.4,335.7 751.4,336.3 757.8,336.8C764.2,337.2 766.2,337.5 777.1,337.7C834.8,339.2 1142.8,338.0 1325.7,338.1" fill="none" stroke="#ff0000" stroke-width="3.7" stroke-dasharray="7.2 8.05" stroke-linecap="round" stroke-linejoin="round" clip-path="url(#cA)"/>
<line x1="472.75" y1="60.96" x2="516.25" y2="60.96" stroke="#ff0000" stroke-width="3.7" stroke-dasharray="7.2 8.05" stroke-linecap="round"/>
<line x1="472.75" y1="109.2" x2="516.25" y2="109.2" stroke="#00ffff" stroke-width="3.7" stroke-dasharray="15.7 6.3 2.2 6.8" stroke-linecap="round"/>
<line x1="646.6" y1="60.96" x2="690.1" y2="60.96" stroke="#0000ff" stroke-width="3.7" stroke-dasharray="2.0 6.72" stroke-linecap="round"/>
<line x1="646.6" y1="109.2" x2="690.1" y2="109.2" stroke="#000000" stroke-width="3.6" stroke-linecap="round"/>
<text x="536.00" y="73.50" text-anchor="start" font-size="40" ><tspan font-style="italic">N</tspan>=2</text>
<text x="536.00" y="122.00" text-anchor="start" font-size="40" ><tspan font-style="italic">N</tspan>=28</text>
<text x="709.70" y="73.50" text-anchor="start" font-size="40" ><tspan font-style="italic">N</tspan>=15</text>
<text x="709.70" y="122.00" text-anchor="start" font-size="40" ><tspan font-style="italic">N</tspan>=33</text>
<path d="M76.7,792.2L150.0,792.2C151.9,791.3 151.5,789.5 152.6,788.7C153.6,787.9 154.5,787.6 156.0,787.2C158.7,786.5 163.0,786.5 167.6,786.4C174.4,786.3 186.8,786.8 192.7,787.2C195.9,787.4 197.1,787.9 200.0,788.0C204.1,788.2 209.9,788.1 214.8,787.5C219.7,786.9 224.9,785.8 229.5,784.5C233.7,783.3 237.7,781.9 241.3,780.1C244.6,778.4 247.5,776.4 250.2,774.2C252.9,772.0 255.3,769.3 257.6,766.8C259.8,764.4 261.6,762.1 263.5,759.4C265.6,756.3 267.7,752.6 269.4,749.1C271.1,745.7 272.4,742.4 273.8,738.7C275.4,734.6 276.8,729.9 278.2,725.5C279.5,721.1 280.7,716.8 281.9,712.2C283.2,707.4 284.4,702.5 285.6,697.4C286.9,692.1 288.2,686.5 289.3,681.2C290.4,676.2 291.4,671.3 292.3,666.4C293.2,661.5 293.9,656.6 294.5,651.7C295.2,646.8 295.7,641.8 296.2,636.9C296.7,632.0 297.0,627.0 297.4,622.1C297.8,617.2 298.3,613.3 298.6,607.4C299.1,598.7 299.2,586.0 299.5,575.0C299.8,563.6 300.1,551.2 300.5,540.0C300.9,529.6 301.4,519.3 301.8,510.0C302.2,501.8 302.5,493.2 302.9,487.0C303.2,482.8 303.5,476.5 303.8,476.5C304.1,476.5 304.4,482.8 304.7,487.0C305.1,493.2 305.4,501.8 305.8,510.0C306.2,519.3 306.7,529.6 307.1,540.0C307.5,551.2 307.9,564.3 308.2,575.0C308.5,584.0 308.4,591.9 308.8,600.0C309.1,607.6 309.7,614.7 310.3,622.1C310.9,629.5 311.7,637.2 312.5,644.2C313.2,650.4 313.9,655.9 314.7,661.9C315.6,668.2 316.6,674.7 317.7,681.1C318.8,687.5 320.1,694.0 321.4,700.3C322.6,706.3 323.8,712.1 325.1,718.0C326.5,723.9 328.0,730.1 329.5,735.7C330.9,740.8 332.2,745.8 333.9,750.4C335.4,754.6 337.3,758.6 339.1,762.2C340.7,765.4 342.2,768.5 344.2,771.1C346.0,773.4 347.8,775.1 350.1,777.0C352.7,779.1 355.9,781.4 359.0,782.9C361.9,784.3 364.8,784.9 367.8,785.8C370.7,786.7 373.9,787.6 376.7,788.1C379.3,788.5 382.0,788.9 384.1,788.8C385.8,788.7 387.2,789.0 388.5,788.1C390.4,786.8 391.8,783.2 393.0,780.1C394.4,776.3 395.1,771.7 395.9,766.8C396.9,761.0 397.4,754.2 398.1,747.6C398.8,740.5 399.4,732.9 400.0,725.5C400.6,718.1 401.0,710.7 401.5,703.3C402.0,695.9 402.5,688.6 403.0,681.2C403.5,673.8 404.1,666.4 404.5,659.0C404.9,651.6 405.2,643.9 405.6,636.9C405.9,630.7 406.0,623.3 406.5,619.2C406.8,616.9 407.1,614.0 407.4,614.0C407.7,614.0 408.2,616.9 408.5,619.2C409.1,623.3 409.2,630.7 409.5,636.9C409.9,643.9 410.3,651.6 410.7,659.0C411.1,666.4 411.6,673.8 412.1,681.2C412.6,688.6 413.3,696.2 413.9,703.3C414.5,709.9 414.6,717.7 415.8,722.5C416.6,725.6 417.8,729.9 418.8,729.9C419.8,729.9 420.8,725.4 421.7,722.5C422.9,718.7 423.7,713.6 424.7,709.2C425.7,704.8 426.7,700.6 427.6,695.9C428.6,690.8 429.6,685.1 430.6,679.7C431.6,674.3 432.5,668.6 433.5,663.5C434.4,658.8 435.3,654.3 436.5,650.2C437.6,646.5 438.7,642.9 440.2,639.9C441.5,637.3 442.9,634.1 444.6,633.2C445.7,632.6 447.2,632.6 448.3,633.2C449.8,633.9 450.9,636.3 452.0,638.4C453.4,641.2 454.5,645.0 455.7,648.7C457.0,652.8 458.2,657.6 459.4,662.0C460.6,666.4 461.9,670.9 463.1,675.3C464.3,679.7 465.5,684.3 466.8,688.6C468.0,692.7 469.2,696.5 470.4,700.4C471.6,704.3 472.9,708.4 474.1,712.2C475.2,715.7 476.1,719.2 477.1,722.5C478.0,725.5 478.9,728.1 480.0,731.1C481.3,734.5 483.0,738.5 484.7,741.9C486.2,745.2 487.7,748.4 489.3,751.2C490.8,753.8 492.1,756.8 494.0,758.2C495.3,759.3 497.4,760.2 498.6,759.8C500.0,759.2 500.9,756.8 501.7,754.3C503.1,750.3 503.4,743.8 504.0,737.3C504.8,728.5 505.1,717.7 505.6,706.3C506.2,692.3 506.7,674.6 507.1,659.8C507.5,646.3 507.7,632.1 508.2,621.0C508.6,612.7 509.0,599.3 509.5,599.3C509.9,599.3 510.3,612.7 510.7,621.0C511.2,632.1 511.4,646.3 511.8,659.8C512.2,674.6 512.7,691.8 513.3,706.3C513.9,719.0 514.1,735.0 515.3,741.9C515.9,744.9 516.5,748.1 517.2,748.1C518.1,748.1 519.3,741.2 520.3,737.3C521.6,732.6 523.0,727.3 524.2,721.8C525.6,715.5 526.7,708.5 528.1,701.6C529.5,694.5 531.2,687.2 532.7,679.9C534.3,672.7 535.8,664.8 537.4,658.2C538.7,652.6 539.8,647.2 541.2,642.7C542.4,639.2 543.4,635.3 545.1,633.4C546.2,632.1 547.8,630.9 549.0,631.1C550.4,631.3 551.7,633.2 552.9,635.0C554.5,637.5 555.6,641.7 556.7,645.8C558.2,651.1 559.4,658.0 560.6,664.4C562.0,671.4 563.2,678.9 564.5,686.1C565.8,693.4 567.0,700.6 568.4,707.8C569.8,715.1 571.4,722.4 573.0,729.5C574.5,736.4 576.1,743.3 577.7,749.7C579.2,755.6 580.6,761.8 582.3,766.7C583.7,770.8 585.1,774.9 587.0,777.6C588.4,779.6 590.0,782.0 591.6,782.2C593.1,782.5 594.9,781.3 596.3,779.9C598.3,777.9 599.6,773.9 600.9,769.8C602.9,764.1 604.3,755.8 605.6,748.1C607.0,739.8 607.8,730.9 608.7,721.8C609.6,711.9 610.3,701.1 611.0,690.8C611.7,680.4 612.3,669.4 613.0,659.8C613.6,651.5 613.9,641.3 614.9,636.5C615.3,634.3 616.0,631.8 616.4,631.9C617.1,631.9 617.4,639.0 617.7,644.3C618.2,653.6 618.2,669.5 618.4,683.0C618.7,697.8 618.9,714.0 619.1,729.5C619.3,745.0 619.3,764.5 619.5,776.0C619.7,782.9 617.2,789.6 620.0,792.3L636.3,792.2" fill="none" stroke="#000000" stroke-width="2.9" stroke-linecap="round" stroke-linejoin="round" clip-path="url(#cB)"/>
<path d="M76.7,792.2C125.2,792.1 198.7,793.1 222.1,791.9C229.6,791.5 232.4,791.1 236.9,790.4C240.7,789.8 243.9,789.2 247.2,788.2C250.3,787.2 253.4,786.1 256.1,784.5C258.8,782.9 261.3,781.0 263.5,778.6C265.8,776.1 267.7,772.9 269.4,769.7C271.1,766.5 272.5,763.0 273.8,759.4C275.2,755.6 276.4,751.6 277.5,747.6C278.6,743.7 279.4,739.7 280.4,735.8C281.4,731.9 282.5,727.9 283.4,724.0C284.3,720.1 284.9,716.1 285.6,712.2C286.3,708.3 287.1,704.3 287.8,700.4C288.5,696.5 289.3,692.8 290.0,688.6C290.8,684.0 291.5,678.7 292.3,673.8C293.0,668.9 293.8,663.9 294.5,659.0C295.2,654.1 296.0,649.2 296.7,644.3C297.4,639.4 298.0,634.4 298.6,629.5C299.2,624.6 299.9,619.7 300.4,614.8C300.9,609.9 301.4,606.1 301.8,600.0C302.4,589.9 302.4,573.3 302.7,560.0C302.9,546.7 303.1,533.6 303.3,520.0C303.5,505.9 303.6,477.0 303.8,477.0C304.0,477.0 304.1,505.9 304.3,520.0C304.5,533.6 304.7,546.7 305.0,560.0C305.3,573.3 305.4,588.6 306.0,600.0C306.4,608.5 307.1,614.7 307.6,622.1C308.1,629.5 308.6,637.2 309.2,644.2C309.7,650.4 310.3,656.0 310.9,661.9C311.6,667.8 312.3,673.7 313.1,679.6C313.9,685.5 314.7,691.7 315.5,697.3C316.3,702.5 317.0,706.9 317.9,712.1C318.8,717.7 319.7,724.2 320.9,729.8C322.0,734.9 323.2,739.6 324.6,744.5C326.0,749.4 327.4,754.7 329.1,759.3C330.6,763.5 332.3,767.5 334.2,771.1C336.0,774.3 337.8,777.4 340.1,779.9C342.3,782.3 344.8,784.2 347.5,785.8C350.2,787.4 353.2,788.5 356.3,789.5C359.5,790.5 362.7,791.3 366.4,791.7L381.1,791.7L390.0,791.9C391.8,791.6 393.2,791.6 394.4,790.4C396.0,788.8 396.6,785.1 397.4,781.5C398.5,776.4 398.9,769.0 399.6,762.4C400.3,755.3 400.9,747.6 401.5,740.2C402.1,732.8 402.6,725.5 403.0,718.1C403.4,710.7 403.6,703.3 404.0,695.9C404.3,688.5 404.8,680.8 405.1,673.8C405.4,667.6 405.6,661.9 405.9,656.1C406.2,650.6 406.6,639.9 407.0,639.9C407.3,639.9 407.6,650.6 408.0,656.1C408.4,661.9 408.8,667.6 409.2,673.8C409.6,680.8 410.0,688.5 410.4,695.9C410.8,703.3 411.3,710.7 411.8,718.1C412.3,725.5 412.9,732.8 413.6,740.2C414.4,747.6 415.3,757.4 416.3,762.4C416.8,765.0 417.3,768.3 418.0,768.3C418.7,768.3 419.6,764.5 420.3,762.4C421.1,760.1 421.8,757.9 422.5,755.0C423.5,750.9 424.4,745.1 425.4,740.2C426.4,735.3 427.4,730.5 428.4,725.5C429.4,720.2 430.4,715.0 431.3,709.2C432.3,702.7 433.3,695.2 434.3,688.6C435.2,682.4 436.2,676.4 437.2,670.8C438.1,665.7 439.2,660.7 440.2,656.1C441.1,651.9 441.8,647.5 443.1,644.3C444.1,641.9 445.6,638.4 446.8,638.4C448.0,638.4 449.5,641.9 450.5,644.3C451.9,647.5 452.6,651.9 453.5,656.1C454.5,660.7 455.5,665.7 456.4,670.8C457.4,676.4 458.4,683.0 459.4,688.6C460.3,693.7 461.3,698.4 462.3,703.3C463.3,708.2 464.3,713.5 465.3,718.1C466.2,722.3 467.2,726.0 468.2,729.9C469.2,733.8 470.1,737.8 471.2,741.7C472.3,745.6 473.6,749.9 474.9,753.5C476.1,756.7 477.0,759.5 478.6,762.4C480.3,765.5 482.8,768.5 484.7,771.4C486.3,774.1 487.7,776.7 489.3,779.1C490.8,781.4 492.2,784.8 494.0,785.3C495.4,785.8 497.2,784.7 498.6,783.8C500.1,782.8 501.5,781.2 502.5,779.1C503.8,776.4 504.2,772.6 504.8,768.3C505.7,762.0 505.9,754.1 506.4,745.0C507.0,732.2 507.2,714.0 507.6,698.5C508.0,683.0 508.3,664.6 508.7,652.0C508.9,643.4 509.2,630.3 509.5,630.3C509.7,630.3 510.0,643.4 510.2,652.0C510.6,664.6 510.9,683.0 511.3,698.5C511.7,714.0 512.0,732.2 512.6,745.0C513.0,754.1 512.8,762.7 514.1,768.3C514.9,771.6 516.1,776.0 517.2,776.0C518.4,776.1 519.9,771.2 521.1,768.3C522.5,764.7 523.8,760.5 525.0,755.9C526.4,750.3 527.6,743.8 528.8,737.3C530.2,730.0 531.4,721.8 532.7,714.0C534.0,706.3 535.4,698.3 536.6,690.8C537.7,683.8 538.6,677.2 539.7,670.6C540.7,664.3 541.6,657.6 542.8,652.0C543.7,647.4 544.5,642.7 545.9,639.6C546.8,637.6 548.0,634.9 549.0,635.0C550.1,635.0 551.2,638.6 552.1,641.2C553.4,644.8 554.2,650.2 555.2,655.1C556.3,660.5 557.3,666.2 558.3,672.2C559.4,678.6 560.4,685.5 561.4,692.3C562.4,699.4 563.4,706.7 564.5,714.0C565.7,721.7 567.0,729.5 568.4,737.3C569.8,745.1 571.4,753.2 573.0,760.5C574.5,767.1 575.8,774.1 577.7,779.1C579.1,782.9 580.2,786.5 582.3,788.4C584.0,790.0 586.5,790.8 588.5,790.8C590.6,790.8 592.8,789.7 594.7,788.4C597.0,787.0 599.2,784.7 600.9,782.2C602.8,779.6 604.3,776.5 605.6,772.9C607.2,768.5 608.4,763.4 609.5,757.4C610.9,749.5 611.7,739.6 612.6,729.5C613.5,717.7 614.0,703.7 614.6,690.8C615.1,677.9 615.6,662.6 616.0,652.0C616.3,644.7 616.5,633.4 616.7,633.4C617.0,633.4 617.4,644.7 617.7,652.0C618.0,662.6 618.2,677.3 618.4,690.8C618.7,705.6 619.0,722.5 619.2,737.3C619.4,750.8 619.6,765.9 619.8,776.0C620.0,782.6 617.7,789.7 620.5,792.3L636.3,792.2" fill="none" stroke="#ff0000" stroke-width="2.9" stroke-dasharray="5.95 10.85" stroke-linecap="round" stroke-linejoin="round" clip-path="url(#cB)"/>
<path d="M76.7,792.2C139.9,792.1 241.2,792.8 266.4,791.9C272.7,791.7 275.0,792.1 278.2,791.1C280.6,790.3 282.5,789.3 284.1,787.5C286.1,785.4 287.5,781.9 288.6,778.6C289.8,775.0 290.2,770.7 290.8,766.8C291.4,762.9 291.8,759.2 292.3,755.0C292.8,750.3 293.2,745.1 293.7,740.2C294.2,735.3 294.7,730.9 295.2,725.5C295.8,718.9 296.2,710.7 296.7,703.3C297.2,695.9 297.7,688.3 298.2,681.2C298.7,674.6 299.1,668.3 299.6,662.0C300.1,656.0 300.6,650.5 301.1,644.3C301.6,637.3 302.2,630.2 302.6,622.1C303.0,612.4 303.1,604.0 303.3,590.0C303.6,563.8 303.6,477.0 303.8,477.0C304.0,477.0 304.0,563.8 304.3,590.0C304.5,604.0 304.6,612.4 305.0,622.1C305.4,630.2 306.0,637.3 306.5,644.3C307.0,650.5 307.5,656.0 308.0,662.0C308.5,668.3 308.9,674.6 309.4,681.2C309.9,688.3 310.4,695.9 310.9,703.3C311.4,710.7 311.8,718.9 312.4,725.5C312.9,730.9 313.4,735.3 313.9,740.2C314.4,745.1 314.8,750.3 315.3,755.0C315.8,759.2 316.2,762.9 316.8,766.8C317.4,770.7 317.8,775.0 319.0,778.6C320.1,781.9 321.5,785.4 323.5,787.5C325.1,789.3 327.0,790.3 329.4,791.1C332.6,792.1 335.8,791.7 341.2,791.9L398.9,791.9C401.0,790.8 401.1,789.6 401.8,787.5C403.2,783.7 403.1,776.0 403.6,769.7C404.1,762.7 404.5,755.0 404.8,747.6C405.1,740.2 405.3,733.4 405.6,725.5C405.9,716.4 406.3,705.8 406.5,695.9C406.7,686.1 406.9,675.8 407.0,666.4C407.1,657.7 407.2,641.3 407.3,641.3C407.4,641.3 407.5,657.7 407.7,666.4C407.9,675.8 408.1,686.1 408.3,695.9C408.6,705.8 408.8,716.4 409.2,725.5C409.5,733.4 410.0,740.2 410.4,747.6C410.8,755.0 410.8,762.9 411.4,769.7C411.9,775.6 412.0,782.1 413.6,786.0C414.7,788.6 416.2,791.3 418.0,791.9C419.7,792.5 422.2,791.5 423.9,790.4C425.8,789.2 427.1,786.9 428.4,784.5C430.0,781.4 431.1,776.8 432.1,772.7C433.1,768.4 433.6,764.2 434.3,759.4C435.1,753.6 435.9,746.2 436.5,740.2C437.1,735.0 437.6,730.9 438.0,725.5C438.5,718.9 438.9,710.6 439.4,703.3C439.9,696.3 440.4,689.4 440.9,682.7C441.4,676.2 441.8,669.9 442.4,663.5C443.0,657.1 443.5,648.8 444.6,644.3C445.2,641.7 446.1,638.4 446.8,638.4C447.5,638.4 448.4,641.7 449.0,644.3C450.0,648.8 450.2,657.1 450.8,663.5C451.3,669.9 451.8,676.2 452.3,682.7C452.8,689.4 453.3,696.3 453.8,703.3C454.3,710.6 454.5,718.9 455.2,725.5C455.7,730.9 456.5,735.0 457.2,740.2C457.9,746.2 458.4,753.6 459.4,759.4C460.2,764.3 461.2,768.4 462.3,772.7C463.4,776.8 464.4,781.3 466.0,784.5C467.2,786.9 468.6,789.2 470.4,790.4C471.9,791.4 473.1,791.5 475.6,791.9L503.3,792.0C505.3,790.9 505.6,789.4 506.4,786.9C508.0,781.6 507.3,771.2 507.6,760.5C508.1,744.2 508.3,717.7 508.5,698.5C508.8,681.9 509.0,664.3 509.1,652.0C509.3,643.9 509.3,631.9 509.5,631.9C509.6,631.9 509.8,643.9 509.9,652.0C510.1,664.3 510.3,681.9 510.5,698.5C510.8,717.7 510.9,744.2 511.5,760.5C511.8,771.2 510.7,781.9 512.9,786.9C513.9,789.4 515.3,790.7 517.2,791.6L526.5,791.6C528.4,791.0 529.8,789.9 531.2,788.4C532.8,786.6 534.0,783.8 535.0,780.7C536.5,776.5 537.3,770.7 538.1,765.2C539.1,758.9 539.8,752.0 540.5,745.0C541.1,737.6 541.5,729.8 542.0,721.8C542.6,713.3 543.2,704.3 543.9,695.4C544.5,686.3 545.2,676.4 545.9,667.5C546.5,659.4 547.0,650.3 547.8,644.3C548.3,640.4 548.9,635.0 549.5,635.0C550.1,635.0 550.8,640.4 551.3,644.3C552.2,650.3 552.6,659.4 553.2,667.5C553.8,676.4 554.4,686.3 555.0,695.4C555.7,704.3 556.3,713.3 556.9,721.8C557.5,729.8 558.1,737.6 558.8,745.0C559.4,752.0 560.0,758.9 560.9,765.2C561.7,770.7 562.4,776.2 563.7,780.7C564.8,784.3 565.7,788.2 567.6,790.0C569.0,791.4 570.4,791.5 573.0,792.0L607.1,792.0C609.8,790.8 610.6,789.4 611.8,786.9C613.7,782.8 613.5,775.6 614.1,768.3C614.9,757.7 615.0,743.0 615.3,729.5C615.7,714.7 615.9,698.5 616.1,683.0C616.3,667.5 616.4,636.5 616.6,636.5C616.8,636.5 617.0,667.5 617.2,683.0C617.4,698.5 617.7,714.7 618.0,729.5C618.2,743.0 618.5,757.0 618.8,768.3C619.0,777.2 615.8,788.4 619.5,792.0L636.3,792.2" fill="none" stroke="#0000ff" stroke-width="2.9" stroke-dasharray="0.7 7.98" stroke-linecap="round" stroke-linejoin="round" clip-path="url(#cB)"/>
<path d="M76.7,792.2C142.4,792.1 249.4,791.9 273.8,791.9L284.1,791.9C286.1,791.1 287.4,789.3 288.6,787.5C289.9,785.5 290.7,783.0 291.5,780.1C292.5,776.4 293.1,771.4 293.7,766.8C294.3,762.0 294.7,757.3 295.2,752.0C295.7,746.0 296.2,739.4 296.7,732.8C297.2,725.7 297.7,718.1 298.2,710.7C298.7,703.3 299.1,696.0 299.6,688.6C300.1,681.2 300.6,673.8 301.1,666.4C301.6,659.0 302.2,652.5 302.6,644.3C303.0,634.1 303.1,625.2 303.3,610.0C303.7,580.1 303.6,477.0 303.8,477.0C304.0,477.0 303.9,580.1 304.3,610.0C304.5,625.2 304.6,634.1 305.0,644.3C305.4,652.5 306.0,659.0 306.5,666.4C307.0,673.8 307.5,681.2 308.0,688.6C308.5,696.0 308.9,703.3 309.4,710.7C309.9,718.1 310.4,725.7 310.9,732.8C311.4,739.4 311.9,746.0 312.4,752.0C312.9,757.3 313.3,762.0 313.9,766.8C314.5,771.4 315.1,776.4 316.1,780.1C316.9,783.0 317.7,785.5 319.0,787.5C320.2,789.3 321.5,791.1 323.5,791.9L333.8,791.9L401.8,791.9C404.5,790.1 404.1,787.7 404.8,784.5C406.0,779.2 405.6,771.0 405.9,762.4C406.3,750.2 406.5,732.9 406.7,718.1C406.9,703.3 407.0,687.4 407.1,673.8C407.2,662.1 407.3,641.3 407.4,641.3C407.5,641.3 407.6,662.1 407.7,673.8C407.8,687.4 408.0,703.3 408.2,718.1C408.4,732.9 408.5,750.2 408.9,762.4C409.2,771.0 408.8,779.2 410.1,784.5C410.9,787.7 411.4,790.5 413.6,791.9L428.4,791.9C430.3,791.0 431.2,789.4 432.1,787.5C433.4,784.9 433.7,781.2 434.3,777.1C435.2,771.1 435.8,762.9 436.5,755.0C437.3,745.9 438.0,735.3 438.7,725.5C439.4,715.6 440.2,705.8 440.9,695.9C441.6,686.1 442.3,675.5 443.1,666.4C443.8,658.5 444.6,649.3 445.4,644.3C445.8,641.7 446.3,638.4 446.8,638.4C447.3,638.4 447.9,641.7 448.3,644.3C449.1,649.3 449.6,658.5 450.2,666.4C450.9,675.5 451.4,686.1 452.0,695.9C452.6,705.8 453.2,715.6 453.8,725.5C454.4,735.3 455.0,745.9 455.7,755.0C456.3,762.9 456.8,771.1 457.9,777.1C458.7,781.3 459.3,784.9 460.8,787.5C462.0,789.5 462.7,790.8 465.3,791.9L504.8,792.0C506.5,791.1 506.5,790.2 507.1,788.4C508.4,784.6 507.9,776.6 508.2,768.3C508.7,754.6 508.7,732.7 508.8,714.0C509.0,694.0 509.2,666.6 509.3,652.0C509.4,644.0 509.4,633.4 509.5,633.4C509.5,633.4 509.7,644.0 509.8,652.0C509.9,666.6 510.0,694.0 510.2,714.0C510.4,732.7 510.4,754.6 510.9,768.3C511.1,776.6 510.4,784.6 511.9,788.4C512.7,790.3 513.2,791.2 514.9,792.0L531.2,792.0C532.9,791.2 533.4,790.1 534.3,788.4C535.7,785.7 536.5,780.6 537.4,776.0C538.4,770.5 539.0,764.3 539.7,757.4C540.6,749.1 541.3,739.1 542.0,729.5C542.8,719.5 543.6,708.9 544.3,698.5C545.1,688.2 545.7,677.3 546.4,667.5C547.0,658.8 547.5,648.8 548.2,642.7C548.6,639.1 549.0,634.2 549.5,634.2C549.9,634.2 550.5,639.1 551.0,642.7C551.8,648.8 552.3,658.8 552.9,667.5C553.6,677.3 554.2,688.2 554.9,698.5C555.6,708.9 556.4,719.5 557.2,729.5C558.0,739.1 558.6,749.1 559.5,757.4C560.3,764.3 561.1,770.5 562.2,776.0C563.1,780.6 563.5,785.7 565.3,788.4C566.5,790.3 567.4,791.2 569.9,792.0L610.2,792.0C612.0,791.5 612.6,791.3 613.3,790.0C614.8,787.6 614.5,782.1 614.9,776.0C615.6,765.1 615.6,746.2 615.8,729.5C616.1,710.3 616.3,684.9 616.4,667.5C616.6,654.9 616.6,635.0 616.7,635.0C616.9,635.0 617.1,654.9 617.2,667.5C617.4,684.9 617.4,710.3 617.7,729.5C617.9,746.2 618.1,765.1 618.4,776.0C618.7,782.1 618.5,787.5 619.2,790.0C619.5,791.0 619.5,791.5 620.3,792.0L636.3,792.2" fill="none" stroke="#00ffff" stroke-width="2.9" stroke-dasharray="9.1 8.9 0.9 9.5" stroke-linecap="round" stroke-linejoin="round" clip-path="url(#cB)"/>
<path d="M303.7,463.9 L306.0,469.7 L312.3,470.1 L307.5,474.1 L309.0,480.2 L303.7,476.9 L298.4,480.2 L299.9,474.1 L295.1,470.1 L301.4,469.7Z" fill="#ff00ff"/>
<path d="M407.0,625.3 L409.3,631.1 L415.6,631.5 L410.8,635.5 L412.3,641.6 L407.0,638.3 L401.7,641.6 L403.2,635.5 L398.4,631.5 L404.7,631.1Z" fill="#ff00ff"/>
<path d="M446.6,623.3 L448.9,629.1 L455.2,629.5 L450.4,633.5 L451.9,639.6 L446.6,636.3 L441.3,639.6 L442.8,633.5 L438.0,629.5 L444.3,629.1Z" fill="#ff00ff"/>
<path d="M492.2,772.0 L494.5,777.8 L500.8,778.2 L496.0,782.2 L497.5,788.3 L492.2,785.0 L486.9,788.3 L488.4,782.2 L483.6,778.2 L489.9,777.8Z" fill="#ff00ff"/>
<line x1="81.5" y1="493.5" x2="126.3" y2="493.5" stroke="#000000" stroke-width="2.9" stroke-linecap="round"/>
<line x1="81.4" y1="543.5" x2="126" y2="543.5" stroke="#ff0000" stroke-width="2.9" stroke-dasharray="5.95 10.85" stroke-linecap="round"/>
<line x1="81.4" y1="593.3" x2="126" y2="593.3" stroke="#0000ff" stroke-width="2.9" stroke-dasharray="0.7 7.98" stroke-linecap="round"/>
<line x1="81.4" y1="643.2" x2="126" y2="643.2" stroke="#00ffff" stroke-width="2.9" stroke-dasharray="9.1 8.9 0.9 9.5" stroke-linecap="round"/>
<text x="148.50" y="507.30" text-anchor="start" font-size="40" ><tspan font-style="italic">L</tspan>=500</text>
<text x="148.50" y="557.10" text-anchor="start" font-size="40" ><tspan font-style="italic">L</tspan>=1000</text>
<text x="148.50" y="606.80" text-anchor="start" font-size="40" ><tspan font-style="italic">L</tspan>=5000</text>
<text x="148.50" y="656.00" text-anchor="start" font-size="40" ><tspan font-style="italic">L</tspan>=10000</text>
<path d="M769.3,792.2C804.3,791.9 855.2,791.8 874.3,791.2C881.4,791.0 884.4,790.8 889.0,790.4C893.2,790.0 897.2,789.6 900.8,788.9C904.0,788.3 906.9,787.7 909.7,786.7C912.3,785.7 914.8,784.4 917.1,783.0C919.2,781.7 921.1,780.2 923.0,778.6C925.0,776.8 927.2,774.9 928.9,772.7C930.6,770.4 931.8,767.7 933.3,765.3C934.8,762.8 936.3,760.5 937.7,757.9C939.3,755.1 940.7,752.1 942.2,749.1C943.7,745.8 945.2,742.3 946.6,738.7C948.1,734.9 949.5,730.9 951.0,726.9C952.5,723.0 954.1,719.1 955.4,715.1C956.8,711.2 957.9,707.1 959.1,703.3C960.3,699.7 961.6,696.4 962.8,693.0C964.1,689.5 965.3,686.1 966.5,682.6C967.7,679.2 968.9,675.9 970.2,672.3C971.6,668.5 973.1,664.3 974.6,660.5C976.1,656.9 977.5,653.5 979.1,650.2C980.5,647.1 981.9,643.9 983.5,641.3C984.9,639.1 986.9,637.4 987.9,635.4C988.8,633.8 989.2,632.8 989.6,630.6C990.5,626.2 990.3,618.3 990.6,610.6C991.0,600.0 991.5,585.5 991.9,572.9C992.3,560.4 992.7,547.8 993.1,535.3C993.5,522.7 993.7,509.2 994.1,497.6C994.4,487.7 994.8,470.0 995.1,470.0C995.5,470.0 995.9,487.7 996.2,497.6C996.6,509.2 996.9,522.7 997.3,535.3C997.7,547.8 998.1,560.4 998.6,572.9C999.1,585.5 999.4,600.8 1000.3,610.6C1000.9,616.9 1001.4,621.5 1002.6,626.0C1003.6,629.8 1004.9,632.6 1006.4,636.0C1008.1,639.9 1010.5,643.9 1012.7,648.0C1015.0,652.3 1017.7,656.6 1020.0,661.2C1022.3,665.9 1024.3,671.1 1026.5,675.8C1028.6,680.3 1030.8,684.6 1033.0,688.8C1035.1,692.7 1037.3,696.5 1039.5,700.1C1041.6,703.5 1043.8,706.6 1046.0,709.9C1048.2,713.1 1050.2,716.8 1052.5,719.6C1054.6,722.1 1056.8,724.5 1059.0,726.1C1060.7,727.3 1062.3,728.0 1064.1,728.7C1066.0,729.5 1068.3,731.0 1070.3,730.7C1072.4,730.4 1074.8,728.5 1076.5,726.6C1078.4,724.5 1079.6,721.6 1080.7,718.3C1082.2,713.8 1082.9,708.0 1083.8,701.8C1085.0,694.0 1086.0,684.9 1086.9,675.0C1088.1,662.7 1089.0,647.4 1090.0,633.6C1090.9,619.8 1091.7,605.5 1092.6,592.3C1093.4,580.1 1094.1,566.3 1095.1,557.2C1095.7,551.3 1096.1,545.2 1097.2,542.7C1097.7,541.6 1098.4,540.6 1098.8,540.7C1099.5,540.9 1099.8,544.2 1100.3,546.9C1101.1,551.7 1101.7,560.3 1102.4,567.5C1103.1,575.4 1103.7,584.4 1104.4,592.3C1105.1,599.5 1105.7,605.9 1106.5,613.0C1107.4,620.4 1108.4,629.0 1109.6,635.7C1110.5,641.1 1111.3,647.7 1112.7,650.2C1113.3,651.3 1114.0,652.3 1114.8,652.2C1116.0,652.1 1117.5,648.2 1118.9,646.0C1120.5,643.5 1122.2,640.6 1124.0,637.8C1125.9,634.7 1127.7,630.5 1130.0,628.3C1131.8,626.6 1133.9,625.0 1135.9,624.8C1137.8,624.6 1140.0,625.7 1141.8,627.1C1144.1,628.9 1145.8,632.3 1147.7,635.4C1149.8,638.9 1151.8,642.9 1153.6,647.2C1155.7,652.2 1157.5,658.2 1159.5,663.7C1161.5,669.2 1163.4,674.7 1165.4,680.2C1167.4,685.7 1169.3,691.4 1171.3,696.8C1173.2,702.0 1175.4,707.2 1177.2,712.1C1178.9,716.6 1180.4,722.2 1181.9,725.1C1182.7,726.7 1183.4,728.6 1184.3,728.6C1185.3,728.6 1186.8,725.9 1187.8,723.9C1189.2,721.0 1190.0,716.7 1190.8,712.1C1191.9,705.6 1192.4,696.8 1193.1,688.5C1193.8,679.2 1194.3,668.8 1194.9,659.0C1195.5,649.2 1196.1,639.3 1196.7,629.5C1197.3,619.7 1197.8,608.4 1198.4,600.0C1198.8,593.8 1199.1,583.9 1199.8,583.8C1200.2,583.8 1201.0,586.9 1201.4,589.8C1202.5,596.6 1202.4,613.3 1203.0,625.0C1203.6,636.7 1204.3,649.3 1205.0,660.0C1205.6,669.0 1206.1,676.7 1206.7,685.0C1207.3,693.2 1207.7,702.1 1208.8,709.3C1209.7,715.2 1210.8,725.0 1212.2,725.2C1213.2,725.3 1214.7,720.4 1215.8,717.3C1217.3,713.3 1218.5,708.3 1219.8,703.3C1221.2,697.7 1222.3,691.2 1223.7,685.4C1225.0,679.9 1226.4,674.9 1227.7,669.4C1229.1,663.6 1230.3,657.1 1231.7,651.5C1233.0,646.6 1234.0,641.2 1235.7,637.6C1236.9,635.1 1238.3,631.7 1239.7,631.6C1241.0,631.5 1242.6,633.6 1243.7,635.6C1245.6,639.0 1246.4,645.8 1247.6,651.5C1249.0,658.2 1250.3,665.8 1251.6,673.4C1253.0,681.7 1254.3,690.7 1255.6,699.3C1256.9,707.9 1258.2,716.7 1259.6,725.2C1260.9,733.3 1262.0,741.5 1263.6,749.1C1265.1,756.1 1266.8,763.0 1268.6,769.0C1270.1,774.1 1271.3,779.5 1273.5,783.0C1275.2,785.7 1277.3,788.3 1279.5,789.0C1281.4,789.6 1283.7,789.0 1285.5,788.0C1287.8,786.7 1289.8,783.8 1291.5,781.0C1293.6,777.7 1295.2,773.4 1296.5,769.0C1297.9,764.1 1298.5,759.0 1299.4,753.1C1300.5,746.0 1301.6,737.6 1302.4,729.2C1303.3,719.8 1303.8,709.3 1304.4,699.3C1305.0,689.3 1305.4,679.4 1305.8,669.4C1306.2,659.5 1306.5,646.4 1307.0,639.6C1307.2,636.1 1307.6,631.6 1307.8,631.6C1308.3,631.6 1308.2,655.4 1308.4,669.4C1308.6,687.1 1308.8,710.1 1309.0,729.2C1309.2,746.8 1308.9,768.9 1309.4,780.0C1309.7,785.5 1308.1,790.0 1310.5,792.2L1327.6,792.2" fill="none" stroke="#000000" stroke-width="2.9" stroke-linecap="round" stroke-linejoin="round" clip-path="url(#cC)"/>
<path d="M769.3,792.2L940.7,792.2C946.2,791.7 948.2,791.6 951.0,790.4C953.4,789.4 955.2,787.7 956.9,786.0C958.6,784.3 960.0,782.3 961.3,780.1C962.7,777.8 963.9,775.2 965.0,772.5C966.1,769.7 967.1,766.9 968.0,763.8C969.1,760.2 969.9,756.1 970.9,752.0C971.9,747.7 973.0,743.0 973.9,738.7C974.7,734.7 975.4,730.8 976.1,726.9C976.8,723.0 977.6,719.3 978.3,715.1C979.1,710.5 979.8,705.3 980.5,700.4C981.2,695.5 982.0,690.5 982.7,685.6C983.5,680.7 984.2,675.7 985.0,670.8C985.7,665.9 986.6,661.0 987.2,656.1C987.8,651.2 988.2,646.2 988.7,641.3C989.2,636.4 989.6,631.5 990.1,626.6C990.6,621.7 991.2,617.5 991.6,611.8C992.2,604.2 992.7,595.9 993.1,585.0C993.7,568.1 993.9,540.0 994.3,520.0C994.6,502.8 994.8,472.0 995.1,472.0C995.4,472.0 995.5,503.6 995.9,520.0C996.3,537.2 996.6,557.5 997.3,572.9C997.9,584.9 998.6,595.6 999.4,605.0C1000.0,612.5 1000.7,618.3 1001.4,625.0C1002.2,631.7 1003.1,638.3 1003.9,645.0C1004.7,651.7 1005.4,658.1 1006.4,665.0C1007.5,672.4 1008.9,680.2 1010.2,688.0C1011.5,695.9 1012.8,704.6 1014.0,712.0C1015.0,718.4 1016.0,723.8 1017.0,730.0C1018.0,736.6 1018.8,744.5 1020.0,750.5C1020.9,755.3 1021.8,759.3 1023.2,763.4C1024.5,767.4 1026.1,771.4 1028.1,774.8C1029.9,777.9 1032.3,780.7 1034.6,782.9C1036.6,784.9 1038.7,786.6 1041.1,787.8C1043.6,789.0 1046.2,789.7 1049.2,790.2C1052.6,790.8 1056.3,790.9 1060.6,791.0L1080.7,790.7C1084.1,790.2 1087.2,790.4 1088.9,788.6C1090.8,786.6 1090.4,782.3 1091.0,778.3C1091.8,772.6 1092.1,765.2 1092.6,757.6C1093.2,748.3 1093.6,737.7 1094.1,726.6C1094.6,713.8 1095.0,698.1 1095.5,685.3C1095.9,674.2 1096.4,663.9 1096.8,654.3C1097.2,646.0 1096.4,632.3 1097.8,631.0C1098.1,630.7 1098.5,630.7 1098.8,631.0C1100.2,632.3 1099.6,646.0 1099.9,654.3C1100.3,663.9 1100.6,675.0 1100.9,685.3C1101.2,695.6 1101.6,706.0 1101.9,716.3C1102.3,726.6 1102.6,738.0 1103.0,747.3C1103.3,754.9 1103.3,762.4 1104.0,767.9C1104.5,771.6 1104.7,776.7 1105.9,777.2C1106.6,777.5 1107.8,776.3 1108.6,775.2C1110.1,773.1 1110.7,768.0 1111.7,763.8C1112.8,758.8 1113.8,753.1 1114.8,747.3C1115.9,740.8 1116.9,733.5 1117.9,726.6C1118.9,719.7 1120.0,712.9 1121.0,706.0C1122.0,699.1 1123.0,692.2 1124.0,685.3C1125.0,678.4 1126.0,670.9 1127.1,664.6C1128.1,659.3 1128.9,654.8 1130.2,650.0C1131.5,645.1 1133.0,638.5 1134.7,635.4C1135.6,633.7 1136.8,631.8 1137.7,631.9C1138.8,632.0 1139.8,635.4 1140.6,637.8C1141.7,641.0 1142.3,645.6 1143.0,649.6C1143.7,653.8 1144.1,658.1 1144.7,662.5C1145.3,667.1 1145.9,672.0 1146.5,676.7C1147.1,681.4 1147.7,686.3 1148.3,690.9C1148.9,695.3 1149.5,699.6 1150.1,703.8C1150.7,707.8 1151.2,711.9 1151.8,715.6C1152.4,718.9 1152.9,721.8 1153.6,725.1C1154.3,728.8 1155.2,733.1 1156.0,736.9C1156.8,740.5 1157.5,744.1 1158.3,747.5C1159.1,750.7 1159.7,753.9 1160.7,756.9C1161.6,759.7 1162.6,762.2 1164.0,765.0C1165.6,768.2 1167.7,772.0 1170.0,775.0C1172.3,778.0 1175.2,780.6 1177.9,783.0C1180.5,785.2 1183.3,788.1 1185.9,789.0C1187.9,789.7 1190.3,790.1 1191.9,789.0C1194.0,787.6 1194.9,783.3 1195.9,779.0C1197.5,771.8 1197.3,760.8 1197.8,749.1C1198.5,732.6 1198.8,708.8 1199.2,689.4C1199.6,671.0 1200.0,635.6 1200.4,635.6C1200.8,635.6 1201.3,671.0 1201.8,689.4C1202.3,708.8 1202.5,732.6 1203.2,749.1C1203.7,760.8 1203.5,772.3 1205.2,779.0C1206.1,782.6 1207.3,786.8 1208.8,787.0C1210.2,787.2 1212.3,783.7 1213.8,781.0C1215.9,777.1 1217.4,770.7 1218.8,765.1C1220.4,758.9 1221.5,752.4 1222.7,745.1C1224.2,736.2 1225.4,725.2 1226.7,715.3C1228.0,705.3 1229.3,695.2 1230.7,685.4C1232.0,675.9 1233.2,666.0 1234.7,657.5C1235.9,650.3 1237.4,642.0 1238.7,637.6C1239.4,635.3 1240.0,632.6 1240.7,632.6C1241.6,632.6 1242.8,637.8 1243.7,641.6C1245.2,647.6 1246.4,656.8 1247.6,665.5C1249.0,675.8 1250.2,688.4 1251.6,699.3C1252.9,709.6 1254.3,719.2 1255.6,729.2C1256.9,739.2 1258.1,750.2 1259.6,759.1C1260.8,766.4 1261.7,773.6 1263.6,779.0C1265.0,783.0 1266.0,786.8 1268.6,789.0C1271.3,791.2 1275.5,792.0 1279.5,792.2C1284.3,792.4 1292.0,791.7 1295.5,789.0C1298.4,786.8 1299.2,783.4 1300.4,779.0C1302.4,771.8 1302.6,759.8 1303.4,749.1C1304.3,736.8 1304.9,722.6 1305.4,709.3C1305.9,696.0 1306.3,682.1 1306.6,669.4C1306.9,657.7 1307.1,635.6 1307.4,635.6C1307.7,635.6 1308.0,656.5 1308.2,669.4C1308.5,686.5 1308.6,710.1 1308.8,729.2C1309.0,746.8 1308.8,768.9 1309.4,780.0C1309.7,785.5 1308.1,790.0 1310.5,792.2L1327.6,792.2" fill="none" stroke="#ff0000" stroke-width="2.9" stroke-dasharray="5.95 10.85" stroke-linecap="round" stroke-linejoin="round" clip-path="url(#cC)"/>
<path d="M769.3,792.2L948.1,792.2C952.9,791.7 954.4,791.5 956.9,790.4C959.2,789.4 961.1,787.7 962.8,786.0C964.5,784.3 965.9,782.3 967.3,780.1C968.9,777.5 970.3,774.2 971.7,771.2C973.0,768.3 974.3,765.4 975.4,762.3C976.5,759.0 977.5,755.6 978.3,752.0C979.2,748.2 979.8,744.4 980.5,740.2C981.3,735.6 982.1,730.3 982.7,725.4C983.3,720.5 983.7,715.6 984.2,710.7C984.7,705.8 985.3,700.8 985.7,695.9C986.1,691.0 986.3,686.1 986.7,681.2C987.1,676.3 987.5,671.3 987.9,666.4C988.3,661.5 988.7,656.6 989.1,651.7C989.5,646.8 989.8,641.8 990.1,636.9C990.5,632.0 990.8,627.0 991.2,622.1C991.6,617.2 992.0,613.7 992.3,607.4C992.8,596.1 992.9,576.4 993.2,560.0C993.5,542.3 993.9,521.0 994.3,505.0C994.6,492.6 994.8,472.0 995.1,472.0C995.4,472.0 995.6,493.3 995.9,505.0C996.3,518.3 996.8,533.0 997.3,547.8C997.9,563.9 998.6,582.5 999.2,598.0C999.8,611.5 1000.2,623.1 1000.9,635.7C1001.6,648.2 1002.4,662.0 1003.2,673.3C1003.8,682.5 1004.5,689.8 1005.2,698.4C1006.0,707.4 1006.7,716.6 1007.7,726.0C1008.7,735.8 1009.5,747.2 1011.4,756.2C1013.0,763.6 1015.0,770.9 1017.7,776.2C1019.8,780.3 1022.2,783.7 1025.2,786.2C1028.1,788.6 1031.9,790.2 1035.3,791.2C1038.5,792.1 1040.7,792.0 1045.0,792.2L1084.8,792.2C1087.8,790.9 1088.8,789.2 1090.0,786.5C1091.9,782.3 1091.5,774.9 1092.0,767.9C1092.7,758.9 1093.1,748.0 1093.5,736.9C1094.0,724.1 1094.3,708.8 1094.7,695.6C1095.1,683.4 1095.5,671.0 1096.0,660.5C1096.4,651.9 1096.4,641.5 1097.2,637.0C1097.5,635.1 1098.1,633.0 1098.4,633.0C1099.0,633.1 1099.4,641.9 1099.7,648.1C1100.2,657.7 1100.4,672.9 1100.7,685.3C1101.0,697.7 1101.3,710.3 1101.7,722.5C1102.1,734.4 1102.5,747.4 1103.0,757.6C1103.4,765.4 1103.5,772.6 1104.4,778.3C1105.1,782.4 1105.8,788.3 1107.1,788.6C1108.0,788.8 1109.6,786.5 1110.6,784.5C1112.3,781.0 1112.7,773.7 1113.7,767.9C1114.8,761.4 1115.9,754.9 1116.8,747.3C1118.0,738.0 1118.9,726.6 1119.9,716.3C1120.9,706.0 1121.8,694.6 1123.0,685.3C1123.9,677.7 1125.0,671.0 1126.1,664.6C1127.1,659.0 1128.0,653.6 1129.2,649.0C1130.1,645.3 1131.1,641.7 1132.3,639.0C1133.2,637.0 1134.2,634.8 1135.4,634.0C1136.2,633.5 1137.2,633.1 1138.0,633.5C1139.2,634.1 1140.1,636.3 1141.0,639.0C1142.9,645.0 1143.4,660.8 1144.5,670.0C1145.4,677.4 1146.2,683.3 1147.0,690.0C1147.8,696.7 1148.6,703.5 1149.5,710.0C1150.3,716.2 1151.1,722.1 1152.0,728.0C1152.9,733.8 1153.9,739.8 1155.0,745.0C1155.9,749.4 1156.7,753.3 1158.0,757.0C1159.1,760.3 1160.5,763.4 1162.0,766.0C1163.2,768.3 1164.5,769.8 1166.0,772.0C1167.8,774.7 1169.7,778.3 1172.0,781.0C1174.3,783.6 1176.9,786.7 1179.9,788.0C1182.9,789.3 1187.4,790.2 1189.9,789.0C1192.3,787.8 1193.7,784.5 1194.9,781.0C1196.8,775.6 1196.9,767.9 1197.5,759.1C1198.5,745.9 1198.4,726.7 1198.8,709.3C1199.2,690.3 1199.2,662.5 1199.8,649.5C1200.1,643.2 1200.5,635.6 1200.8,635.6C1201.2,635.6 1201.5,656.5 1201.8,669.4C1202.2,686.5 1202.3,711.3 1202.8,729.2C1203.2,743.8 1203.0,758.4 1204.2,769.0C1205.0,776.2 1205.6,785.9 1207.8,787.0C1208.9,787.5 1210.6,786.3 1211.8,785.0C1213.8,782.8 1215.3,777.8 1216.8,773.0C1218.8,766.5 1220.4,757.5 1221.8,749.1C1223.4,739.7 1224.4,729.2 1225.7,719.2C1227.0,709.3 1228.4,699.3 1229.7,689.4C1231.0,679.4 1232.2,668.4 1233.7,659.5C1234.9,652.2 1236.5,644.3 1237.7,639.6C1238.4,637.0 1238.9,633.6 1239.7,633.6C1240.6,633.6 1241.8,638.2 1242.7,641.6C1244.3,647.4 1245.5,656.8 1246.7,665.5C1248.2,675.8 1249.2,688.4 1250.6,699.3C1251.9,709.6 1253.2,719.6 1254.6,729.2C1255.9,738.1 1257.0,746.9 1258.6,755.1C1260.1,762.7 1261.4,770.9 1263.6,777.0C1265.3,781.7 1266.7,786.5 1269.6,789.0C1272.2,791.2 1275.8,792.0 1279.5,792.2C1284.2,792.5 1292.0,791.7 1295.5,789.0C1298.4,786.8 1299.2,783.4 1300.4,779.0C1302.4,771.8 1302.6,759.8 1303.4,749.1C1304.3,736.8 1304.9,722.6 1305.4,709.3C1305.9,696.0 1306.3,682.1 1306.6,669.4C1306.9,657.7 1307.1,635.6 1307.4,635.6C1307.7,635.6 1308.0,656.5 1308.2,669.4C1308.5,686.5 1308.6,710.1 1308.8,729.2C1309.0,746.8 1308.8,768.9 1309.4,780.0C1309.7,785.5 1308.1,790.0 1310.5,792.2L1327.6,792.2" fill="none" stroke="#0000ff" stroke-width="2.9" stroke-dasharray="0.7 7.98" stroke-linecap="round" stroke-linejoin="round" clip-path="url(#cC)"/>
<path d="M769.3,792.2L948.5,792.2C953.3,791.7 954.8,791.5 957.3,790.4C959.6,789.4 961.5,787.7 963.2,786.0C964.9,784.3 966.3,782.3 967.7,780.1C969.3,777.5 970.7,774.2 972.1,771.2C973.4,768.3 974.7,765.4 975.8,762.3C976.9,759.0 977.9,755.6 978.7,752.0C979.6,748.2 980.2,744.4 980.9,740.2C981.7,735.6 982.5,730.3 983.1,725.4C983.7,720.5 984.1,715.6 984.6,710.7C985.1,705.8 985.7,700.8 986.1,695.9C986.5,691.0 986.7,686.1 987.1,681.2C987.5,676.3 987.9,671.3 988.3,666.4C988.7,661.5 989.1,656.6 989.5,651.7C989.9,646.8 990.2,641.8 990.5,636.9C990.9,632.0 991.2,627.0 991.6,622.1C992.0,617.2 992.4,613.7 992.7,607.4C993.2,596.1 993.3,576.4 993.6,560.0C993.9,542.3 994.3,521.0 994.7,505.0C995.0,492.6 995.2,472.0 995.5,472.0C995.8,472.0 996.0,493.3 996.3,505.0C996.7,518.3 997.2,533.0 997.7,547.8C998.3,563.9 999.0,582.5 999.6,598.0C1000.2,611.5 1000.6,623.1 1001.3,635.7C1002.0,648.2 1002.8,662.0 1003.6,673.3C1004.2,682.5 1004.9,689.8 1005.6,698.4C1006.4,707.4 1007.1,716.6 1008.1,726.0C1009.1,735.8 1009.9,747.2 1011.8,756.2C1013.4,763.6 1015.4,770.9 1018.1,776.2C1020.2,780.3 1022.6,783.7 1025.6,786.2C1028.5,788.6 1032.3,790.2 1035.7,791.2C1038.9,792.1 1041.1,792.0 1045.4,792.2L1085.2,792.2C1088.2,790.9 1089.2,789.2 1090.4,786.5C1092.3,782.3 1091.9,774.9 1092.4,767.9C1093.1,758.9 1093.5,748.0 1093.9,736.9C1094.4,724.1 1094.7,708.8 1095.1,695.6C1095.5,683.4 1095.9,671.0 1096.4,660.5C1096.8,651.9 1096.8,641.5 1097.6,637.0C1097.9,635.1 1098.5,633.0 1098.8,633.0C1099.4,633.1 1099.8,641.9 1100.1,648.1C1100.6,657.7 1100.8,672.9 1101.1,685.3C1101.4,697.7 1101.7,710.3 1102.1,722.5C1102.5,734.4 1102.9,747.4 1103.4,757.6C1103.8,765.4 1103.9,772.6 1104.8,778.3C1105.5,782.4 1106.2,788.3 1107.5,788.6C1108.4,788.8 1110.0,786.5 1111.0,784.5C1112.7,781.0 1113.1,773.7 1114.1,767.9C1115.2,761.4 1116.3,754.9 1117.2,747.3C1118.4,738.0 1119.3,726.6 1120.3,716.3C1121.3,706.0 1122.2,694.6 1123.4,685.3C1124.3,677.7 1125.4,671.0 1126.5,664.6C1127.5,659.0 1128.4,653.6 1129.6,649.0C1130.5,645.3 1131.5,641.7 1132.7,639.0C1133.6,637.0 1134.6,634.8 1135.8,634.0C1136.6,633.5 1137.6,633.1 1138.4,633.5C1139.6,634.1 1140.5,636.3 1141.4,639.0C1143.3,645.0 1143.8,660.8 1144.9,670.0C1145.8,677.4 1146.6,683.3 1147.4,690.0C1148.2,696.7 1149.0,703.5 1149.9,710.0C1150.7,716.2 1151.5,722.1 1152.4,728.0C1153.3,733.8 1154.3,739.8 1155.4,745.0C1156.3,749.4 1157.1,753.3 1158.4,757.0C1159.5,760.3 1160.9,763.4 1162.4,766.0C1163.6,768.3 1164.9,769.8 1166.4,772.0C1168.2,774.7 1170.1,778.3 1172.4,781.0C1174.7,783.6 1177.3,786.7 1180.3,788.0C1183.3,789.3 1187.8,790.2 1190.3,789.0C1192.7,787.8 1194.1,784.5 1195.3,781.0C1197.2,775.6 1197.3,767.9 1197.9,759.1C1198.9,745.9 1198.8,726.7 1199.2,709.3C1199.6,690.3 1199.6,662.5 1200.2,649.5C1200.5,643.2 1200.9,635.6 1201.2,635.6C1201.6,635.6 1201.9,656.5 1202.2,669.4C1202.6,686.5 1202.7,711.3 1203.2,729.2C1203.6,743.8 1203.4,758.4 1204.6,769.0C1205.4,776.2 1206.0,785.9 1208.2,787.0C1209.3,787.5 1211.0,786.3 1212.2,785.0C1214.2,782.8 1215.7,777.8 1217.2,773.0C1219.2,766.5 1220.8,757.5 1222.2,749.1C1223.8,739.7 1224.8,729.2 1226.1,719.2C1227.4,709.3 1228.8,699.3 1230.1,689.4C1231.4,679.4 1232.6,668.4 1234.1,659.5C1235.3,652.2 1236.9,644.3 1238.1,639.6C1238.8,637.0 1239.3,633.6 1240.1,633.6C1241.0,633.6 1242.2,638.2 1243.1,641.6C1244.7,647.4 1245.9,656.8 1247.1,665.5C1248.6,675.8 1249.6,688.4 1251.0,699.3C1252.3,709.6 1253.6,719.6 1255.0,729.2C1256.3,738.1 1257.4,746.9 1259.0,755.1C1260.5,762.7 1261.8,770.9 1264.0,777.0C1265.7,781.7 1267.1,786.5 1270.0,789.0C1272.6,791.2 1276.2,792.0 1279.9,792.2C1284.6,792.5 1292.4,791.7 1295.9,789.0C1298.8,786.8 1299.6,783.4 1300.8,779.0C1302.8,771.8 1303.0,759.8 1303.8,749.1C1304.7,736.8 1305.3,722.6 1305.8,709.3C1306.3,696.0 1306.7,682.1 1307.0,669.4C1307.3,657.7 1307.5,635.6 1307.8,635.6C1308.1,635.6 1308.4,656.5 1308.6,669.4C1308.9,686.5 1309.0,710.1 1309.2,729.2C1309.4,746.8 1309.2,768.9 1309.8,780.0C1310.1,785.5 1308.5,790.0 1310.9,792.2L1327.6,792.2" fill="none" stroke="#00ffff" stroke-width="2.9" stroke-dasharray="9.1 8.9 0.9 9.5" stroke-linecap="round" stroke-linejoin="round" clip-path="url(#cC)"/>
<path d="M769.3,792.2L844.0,792.2C847.7,788.7 844.4,781.9 844.8,777.1C845.2,772.6 845.5,767.5 846.2,764.0C846.7,761.6 847.4,759.9 848.0,757.9" fill="none" stroke="#7300ff" stroke-width="2.9" stroke-dasharray="5.6 8.8 0.4 8.8 0.6 9.2" stroke-linecap="round" stroke-linejoin="round" clip-path="url(#cC)"/>
<path d="M848.0,757.9 849.2,755.5 850.4,753.1 851.6,752.0 852.8,749.8 854.0,749.5 855.2,748.1 856.4,746.5 857.6,746.6 858.8,745.3 860.0,745.6 861.2,744.6 862.4,744.2 863.6,744.2 864.8,744.3 866.0,742.4 867.2,742.0 868.4,742.1 869.6,742.7 870.8,742.0 872.0,741.7 873.2,742.8 874.4,741.1 875.6,742.5 876.8,740.9 878.0,740.0 879.2,739.4 880.4,739.1 881.6,739.4 882.8,737.8 884.0,738.9 885.2,739.4 886.4,739.3 887.6,740.0 888.8,739.5 890.0,739.8 891.2,739.9 892.4,740.5 893.6,739.9 894.8,739.5 896.0,739.9 897.2,740.1 898.4,740.3 899.6,741.7 900.8,742.1 902.0,741.8 903.2,742.5 904.4,742.6 905.6,743.3 906.8,743.2 908.0,742.5 909.2,743.9 910.4,742.4 911.6,743.1 912.8,743.7 914.0,742.6 915.2,743.2 916.4,742.4 917.6,743.5 918.8,743.7 920.0,743.1 921.2,743.3 922.4,741.9 923.6,742.2 924.8,741.7 926.0,741.4 927.2,741.0 928.4,741.5 929.6,741.5 930.8,740.5 932.0,740.6 933.2,739.3 934.4,739.8 935.6,739.0 936.8,738.9 938.0,737.8 939.2,735.9 940.4,735.1 941.6,734.7 942.8,732.6 944.0,732.4 945.2,730.9 946.4,729.9 947.6,728.6 948.8,728.7 950.0,726.3 952.0,725.0" fill="none" stroke="#7300ff" stroke-width="2.9" stroke-linecap="round" stroke-linejoin="round" clip-path="url(#cC)"/>
<path d="M952.0,725.0C953.6,722.2 955.3,719.3 956.9,716.6C958.4,714.1 959.9,711.8 961.3,709.2C962.8,706.4 964.4,703.8 965.8,700.4C967.5,696.2 968.7,690.2 970.2,685.6C971.6,681.4 973.0,677.4 974.6,673.8C976.0,670.6 977.5,667.9 979.0,664.9C980.5,662.0 982.4,659.3 983.5,656.1C984.7,652.5 985.2,648.5 985.7,644.3C986.3,639.7 986.2,634.8 986.5,629.5C986.8,623.4 987.2,616.9 987.6,610.0C988.0,602.3 988.5,594.5 988.9,585.5C989.5,574.3 990.0,560.4 990.6,547.8C991.2,535.3 992.0,522.0 992.6,510.2C993.1,499.6 993.5,487.5 994.1,480.1C994.4,475.8 994.8,470.0 995.2,470.0C995.6,470.0 996.0,475.8 996.4,480.1C997.1,487.5 998.2,499.6 998.9,510.2C999.7,522.0 1000.1,535.3 1000.7,547.8C1001.3,560.4 1002.1,574.2 1002.7,585.5C1003.2,594.7 1003.5,602.2 1003.9,610.6C1004.3,619.0 1004.6,627.3 1005.2,635.7C1005.8,644.1 1006.9,652.4 1007.7,660.8C1008.5,669.1 1009.4,677.5 1010.2,685.8C1011.0,694.2 1011.9,702.5 1012.7,710.9C1013.5,719.3 1014.2,727.6 1015.2,736.0C1016.3,744.4 1017.8,753.3 1019.0,761.1C1020.0,767.8 1020.5,774.9 1022.0,780.0C1023.1,783.8 1023.6,787.6 1026.0,789.4C1028.4,791.2 1031.8,790.7 1036.2,791.0L1068.7,791.0C1069.7,790.7 1069.6,790.3 1070.3,789.7C1071.7,788.5 1074.8,786.8 1076.5,784.5C1078.5,781.8 1079.4,778.0 1080.7,774.1C1082.3,769.3 1083.6,763.4 1084.8,757.6C1086.1,751.1 1087.1,744.5 1087.9,736.9C1088.9,727.6 1089.3,716.3 1090.0,706.0C1090.7,695.7 1091.3,685.0 1092.0,675.0C1092.7,665.7 1093.3,656.0 1094.1,648.1C1094.7,641.9 1095.1,635.2 1096.2,631.6C1096.8,629.7 1097.6,627.3 1098.2,627.4C1099.3,627.6 1099.7,637.6 1100.3,644.0C1101.1,652.7 1101.7,664.7 1102.4,675.0C1103.1,685.3 1103.6,697.0 1104.4,706.0C1105.0,713.0 1105.3,719.6 1106.5,724.5C1107.3,727.9 1108.5,732.7 1109.6,732.8C1110.6,732.9 1111.8,729.2 1112.7,726.6C1114.0,722.8 1114.8,717.1 1115.8,712.1C1116.9,706.8 1117.9,701.1 1118.9,695.6C1119.9,690.1 1120.9,684.4 1122.0,679.1C1123.0,674.1 1124.0,669.2 1125.1,664.6C1126.1,660.3 1127.2,656.2 1128.2,652.2C1129.2,648.4 1129.9,644.1 1131.0,641.0C1131.8,638.8 1132.3,636.9 1133.5,635.4C1134.6,633.9 1136.3,631.9 1137.7,631.9C1139.1,631.9 1140.5,633.8 1141.8,635.4C1143.6,637.7 1145.0,641.5 1146.5,644.8C1148.1,648.5 1149.7,652.6 1151.2,656.6C1152.8,660.8 1154.5,665.1 1156.0,669.6C1157.6,674.5 1159.1,680.1 1160.7,685.0C1162.2,689.5 1163.8,693.8 1165.4,697.9C1166.9,701.7 1168.4,705.3 1170.1,708.6C1171.6,711.6 1173.2,714.2 1174.8,716.8C1176.3,719.3 1177.7,722.2 1179.6,723.9C1181.3,725.4 1183.7,726.9 1185.5,726.8C1187.2,726.7 1188.7,725.2 1190.2,723.9C1191.9,722.4 1193.7,720.3 1194.9,718.0C1196.2,715.3 1196.7,712.1 1197.3,708.6C1198.0,704.4 1198.1,700.2 1198.4,694.4C1198.9,685.3 1199.3,672.3 1199.6,659.0C1200.0,641.8 1200.0,618.0 1200.2,600.0C1200.3,584.8 1200.2,557.9 1200.5,557.9C1200.8,557.9 1201.4,577.5 1201.8,589.8C1202.3,606.6 1202.5,630.5 1202.8,649.5C1203.1,666.9 1202.0,692.0 1203.8,699.3C1204.3,701.5 1205.1,703.3 1205.8,703.3C1206.8,703.2 1207.7,698.5 1208.8,695.3C1210.4,690.5 1212.0,683.3 1213.8,677.4C1215.6,671.4 1217.8,665.3 1219.8,659.5C1221.7,654.0 1223.7,648.6 1225.7,643.5C1227.6,638.7 1229.4,633.3 1231.7,629.6C1233.5,626.7 1235.7,623.5 1237.7,622.6C1239.0,622.0 1240.5,621.9 1241.7,622.6C1243.4,623.6 1244.4,626.7 1245.7,629.6C1247.5,633.8 1249.0,640.0 1250.6,645.5C1252.3,651.3 1253.9,657.5 1255.6,663.5C1257.3,669.5 1258.9,675.4 1260.6,681.4C1262.3,687.4 1263.8,693.2 1265.6,699.3C1267.5,705.8 1269.4,713.2 1271.6,719.2C1273.4,724.3 1275.3,729.3 1277.5,733.2C1279.3,736.4 1281.2,739.6 1283.5,741.2C1285.3,742.5 1287.8,743.5 1289.5,743.1C1291.1,742.7 1292.3,741.0 1293.5,739.2C1295.2,736.4 1296.4,731.6 1297.5,727.2C1298.8,721.9 1299.5,716.0 1300.4,709.3C1301.5,700.6 1302.6,689.4 1303.4,679.4C1304.2,669.4 1304.7,657.9 1305.4,649.5C1305.9,643.4 1306.6,633.6 1307.0,633.6C1307.4,633.6 1307.8,643.0 1308.0,649.5C1308.4,659.8 1308.3,674.8 1308.4,689.4C1308.5,707.3 1308.6,731.7 1308.8,749.1C1308.9,762.6 1308.5,777.6 1309.2,785.0C1309.5,788.3 1308.8,790.7 1310.5,792.2L1327.6,792.2" fill="none" stroke="#7300ff" stroke-width="2.9" stroke-dasharray="5.6 8.8 0.4 8.8 0.6 9.2" stroke-linecap="round" stroke-linejoin="round" clip-path="url(#cC)"/>
<line x1="778.5" y1="493.0" x2="822.5" y2="493.0" stroke="#000000" stroke-width="2.9" stroke-linecap="round"/>
<line x1="778.4" y1="542.9" x2="822.5" y2="542.9" stroke="#ff0000" stroke-width="2.9" stroke-dasharray="5.95 10.85" stroke-linecap="round"/>
<line x1="778.4" y1="593.0" x2="822.5" y2="593.0" stroke="#0000ff" stroke-width="2.9" stroke-dasharray="0.7 7.98" stroke-linecap="round"/>
<line x1="778.4" y1="642.6" x2="822.5" y2="642.6" stroke="#00ffff" stroke-width="2.9" stroke-dasharray="9.1 8.9 0.9 9.5" stroke-linecap="round"/>
<line x1="777.9" y1="692.9" x2="822.5" y2="692.9" stroke="#7300ff" stroke-width="2.9" stroke-dasharray="5.6 8.8 0.4 8.8 0.6 9.2" stroke-linecap="round"/>
<text x="843.30" y="506.50" text-anchor="start" font-size="40" ><tspan font-style="italic">p</tspan>=0.05</text>
<text x="843.30" y="556.30" text-anchor="start" font-size="40" ><tspan font-style="italic">p</tspan>=0.3</text>
<text x="843.30" y="606.10" text-anchor="start" font-size="40" ><tspan font-style="italic">p</tspan>=0.5</text>
<text x="843.30" y="655.90" text-anchor="start" font-size="40" ><tspan font-style="italic">p</tspan>=0.7</text>
<text x="843.30" y="705.70" text-anchor="start" font-size="40" ><tspan font-style="italic">p</tspan>=0.95</text>
<path d="M76.8,1018.4C78.3,1021.0 79.4,1023.7 81.2,1026.1C83.0,1028.5 85.5,1030.5 87.6,1032.6C89.8,1034.7 92.2,1036.5 94.1,1039.0C96.1,1041.6 97.2,1045.3 99.3,1048.1C101.5,1050.9 104.4,1053.4 107.0,1055.8C109.5,1058.1 112.2,1060.1 114.8,1062.3C117.4,1064.5 119.9,1066.8 122.5,1068.8C125.0,1070.7 127.5,1072.2 130.3,1073.9C133.5,1075.9 136.9,1078.0 140.6,1079.9C144.6,1081.9 149.1,1084.0 153.5,1085.5C157.7,1087.0 162.1,1088.0 166.4,1088.9C170.7,1089.8 175.1,1090.2 179.4,1090.7C183.7,1091.2 188.0,1091.7 192.3,1092.0C196.6,1092.3 199.4,1092.4 205.2,1092.5L260.0,1092.7C294.1,1092.8 380.4,1093.2 390.0,1093.2C391.2,1093.2 391.3,1093.2 392.0,1093.2" fill="none" stroke="#000000" stroke-width="2.9" stroke-linecap="round" stroke-linejoin="round" clip-path="url(#cD)"/>
<path d="M390.0,1093.2 392.0,1093.2 430.0,1093.4 470.0,1093.3 471.6,1093.4 473.2,1093.5 474.8,1093.5 476.4,1093.5 478.0,1093.6 479.6,1093.5 481.2,1093.7 482.8,1093.8 484.4,1093.9 486.0,1093.8 487.6,1093.9 489.3,1093.9 491.0,1094.1 492.7,1094.1 494.3,1094.0 496.0,1094.3 497.7,1094.4 499.4,1094.3 501.1,1094.4 502.7,1094.3 504.4,1094.3 506.1,1094.5 507.8,1094.4 509.5,1094.6 511.1,1094.6 512.8,1094.7 514.5,1094.9 516.2,1095.0 517.9,1095.2 519.5,1095.2 521.2,1095.3 522.9,1095.3 524.6,1095.4 526.3,1095.5 527.9,1095.5 529.6,1095.8 531.3,1095.9 533.0,1096.0 534.7,1096.0 536.3,1095.9 538.0,1095.9 539.7,1096.0 541.4,1095.9 543.0,1096.4 544.7,1096.3 546.4,1096.6 548.1,1096.4 549.8,1097.0 551.4,1097.1 553.1,1096.7 554.8,1097.1 556.5,1097.8 558.2,1097.7 559.8,1098.8 561.5,1098.9 563.2,1099.2 565.3,1098.7 567.4,1097.8 569.5,1096.2 571.2,1097.2 572.9,1098.8 574.5,1100.8 577.1,1102.4 579.6,1098.5 580.8,1103.0 583.4,1099.7 585.9,1102.1 588.4,1104.4 590.9,1098.5 593.4,1104.7 595.9,1101.4 597.2,1098.5 598.5,1105.6 601.0,1111.0 603.5,1104.2 605.4,1100.2 607.3,1107.6 608.5,1108.5 610.4,1104.2 612.3,1101.1 614.8,1107.1 618.0,1111.2 620.5,1103.5 623.7,1102.2 626.2,1107.6 628.7,1121.1 630.6,1108.1 632.5,1104.4 634.4,1113.9 635.6,1107.8" fill="none" stroke="#000000" stroke-width="2.9" stroke-linecap="round" stroke-linejoin="round" clip-path="url(#cD)"/>
<path d="M76.8,928.5C78.3,934.3 79.4,940.2 81.2,946.0C83.0,952.0 85.3,958.1 87.6,964.1C90.0,970.2 92.9,976.7 95.4,982.2C97.6,986.9 99.6,990.6 101.8,995.1C104.3,1000.0 107.0,1005.4 109.6,1010.6C112.2,1015.8 114.6,1021.2 117.3,1026.1C119.8,1030.7 122.5,1034.7 125.1,1039.0C127.7,1043.3 129.9,1047.8 132.8,1052.0C135.9,1056.4 139.7,1060.6 143.2,1064.9C146.6,1069.2 150.0,1073.7 153.5,1077.8C156.9,1081.8 160.4,1085.7 163.9,1089.4C167.3,1093.0 170.7,1096.5 174.2,1099.8C177.6,1103.0 180.9,1105.5 184.5,1108.8C188.6,1112.7 193.1,1117.4 197.4,1121.7C201.7,1126.0 205.9,1130.8 210.4,1134.6C214.6,1138.1 218.9,1141.1 223.3,1143.7C227.5,1146.2 231.7,1148.0 236.2,1150.1C241.1,1152.3 247.4,1154.6 251.7,1156.6C254.9,1158.1 257.3,1159.8 260.0,1160.7C262.5,1161.5 264.8,1161.5 267.4,1162.2C270.6,1163.1 273.8,1164.8 277.8,1165.9C283.2,1167.3 290.6,1168.5 297.0,1169.3C303.4,1170.1 310.0,1170.4 316.3,1170.8C322.3,1171.1 324.5,1171.2 334.0,1171.4L636.6,1171.4" fill="none" stroke="#ff0000" stroke-width="2.9" stroke-dasharray="5.95 10.85" stroke-linecap="round" stroke-linejoin="round" clip-path="url(#cD)"/>
<path d="M76.8,966.5C77.8,972.6 78.6,979.3 79.9,984.8C81.0,989.5 82.4,993.2 83.8,997.7C85.4,1002.6 87.2,1008.0 88.9,1013.2C90.6,1018.4 92.4,1023.5 94.1,1028.7C95.8,1033.9 97.4,1039.1 99.3,1044.2C101.2,1049.4 103.6,1054.5 105.7,1059.7C107.9,1064.9 110.0,1070.0 112.2,1075.2C114.3,1080.4 116.3,1085.6 118.6,1090.7C121.0,1095.9 123.7,1101.3 126.4,1106.2C128.9,1110.7 131.3,1114.8 134.1,1119.1C136.9,1123.5 139.9,1128.1 143.2,1132.1C146.4,1135.9 149.9,1139.3 153.5,1142.4C156.9,1145.3 160.3,1147.9 163.9,1150.1C167.3,1152.2 170.8,1153.6 174.2,1155.3C177.6,1157.0 180.8,1159.0 184.5,1160.5C188.5,1162.1 192.9,1163.2 197.4,1164.4C202.3,1165.7 207.6,1166.9 213.0,1167.7C218.8,1168.6 224.4,1169.0 231.0,1169.5C238.8,1170.1 248.5,1170.5 256.9,1170.8C264.8,1171.1 267.7,1171.2 280.0,1171.3L636.6,1171.4" fill="none" stroke="#0000ff" stroke-width="2.9" stroke-dasharray="0.7 7.98" stroke-linecap="round" stroke-linejoin="round" clip-path="url(#cD)"/>
<path d="M76.8,943.5C78.3,949.5 79.4,955.5 81.2,961.5C83.0,967.6 85.3,973.6 87.6,979.6C90.0,985.7 92.9,991.9 95.4,997.7C97.7,1003.1 99.5,1007.8 101.8,1013.2C104.3,1019.0 107.0,1025.3 109.6,1031.3C112.2,1037.3 114.6,1043.6 117.3,1049.4C119.8,1054.8 122.4,1060.0 125.1,1064.9C127.6,1069.4 130.2,1073.5 132.8,1077.8C135.4,1082.1 138.1,1086.2 140.6,1090.7C143.3,1095.6 145.8,1101.0 148.4,1106.2C151.0,1111.4 153.4,1116.8 156.1,1121.7C158.6,1126.3 161.3,1130.3 163.9,1134.6C166.5,1138.9 168.9,1143.6 171.6,1147.6C174.1,1151.3 176.7,1154.8 179.4,1157.9C181.9,1160.7 184.4,1162.8 187.1,1165.6C190.3,1168.8 194.0,1172.6 197.4,1176.0C200.8,1179.5 204.4,1182.8 207.8,1186.3C211.2,1189.7 214.5,1193.1 218.1,1196.7C222.2,1200.8 226.6,1205.7 231.0,1209.6C235.2,1213.4 239.3,1216.8 243.9,1219.9C248.7,1223.1 255.2,1226.2 259.5,1228.5C262.6,1230.1 264.6,1231.2 267.4,1232.6C270.6,1234.2 274.2,1236.2 277.8,1237.8C281.6,1239.4 285.4,1240.9 289.6,1242.2C294.2,1243.6 299.2,1244.9 304.4,1245.9C310.0,1247.0 316.1,1247.8 322.2,1248.4C328.5,1249.0 334.8,1249.1 341.5,1249.3L363.7,1249.6L636.6,1249.6" fill="none" stroke="#00ffff" stroke-width="2.9" stroke-dasharray="9.1 8.9 0.9 9.5" stroke-linecap="round" stroke-linejoin="round" clip-path="url(#cD)"/>
<path d="M786.4,914.2C786.5,936.1 786.6,959.6 786.8,980.0C786.9,997.8 787.1,1018.5 787.3,1030.0C787.4,1036.1 787.3,1039.2 787.6,1044.0C787.9,1049.1 788.6,1054.7 789.4,1059.6C790.1,1064.1 790.8,1068.5 791.9,1072.5C792.9,1076.2 793.8,1080.0 795.8,1082.8C797.7,1085.5 800.4,1087.8 803.6,1089.3C807.2,1091.0 811.8,1091.3 816.5,1091.9C822.0,1092.6 826.7,1092.4 834.6,1092.6L900.0,1092.7L1306.0,1092.7C1307.6,1092.3 1307.9,1092.2 1308.5,1091.5C1309.3,1090.7 1309.6,1089.6 1310.0,1088.0C1310.7,1085.1 1310.6,1079.9 1310.9,1075.0C1311.2,1068.4 1311.4,1059.6 1311.7,1052.0C1311.9,1044.6 1312.2,1038.4 1312.4,1030.0C1312.7,1018.6 1313.0,1003.3 1313.2,990.0C1313.4,976.7 1313.5,963.0 1313.7,950.0C1313.8,937.7 1314.0,926.1 1314.1,914.2" fill="none" stroke="#000000" stroke-width="2.9" stroke-linecap="round" stroke-linejoin="round" clip-path="url(#cE)"/>
<path d="M787.0,914.2C787.1,922.8 787.2,931.3 787.4,940.0C787.6,948.8 787.8,956.3 788.0,966.6C788.2,981.0 788.1,1002.3 788.6,1018.3C789.1,1032.1 789.5,1045.4 790.7,1057.0C791.7,1066.5 792.9,1074.7 794.5,1082.8C796.0,1090.1 797.5,1096.9 799.7,1103.5C801.8,1109.8 804.5,1115.9 807.4,1121.6C810.1,1127.0 813.1,1132.5 816.5,1137.0C819.6,1141.0 823.0,1144.2 826.8,1147.4C830.7,1150.7 835.0,1154.0 839.7,1156.4C844.5,1158.8 849.8,1160.1 855.2,1161.6C861.0,1163.2 867.0,1164.4 873.3,1165.4C879.9,1166.4 886.6,1166.9 893.9,1167.5C902.1,1168.2 910.4,1168.8 920.0,1169.3C931.9,1169.9 946.7,1170.2 960.0,1170.5C973.3,1170.8 980.7,1170.9 1000.0,1171.0C1051.0,1171.3 1248.2,1172.5 1278.1,1170.6C1283.9,1170.2 1285.3,1170.4 1288.4,1169.3C1291.3,1168.2 1293.9,1166.4 1296.2,1164.2C1298.7,1161.8 1300.9,1158.5 1302.6,1155.1C1304.4,1151.3 1305.5,1147.0 1306.5,1142.2C1307.8,1136.2 1308.5,1128.9 1309.1,1121.6C1309.8,1113.5 1310.0,1105.2 1310.4,1095.7C1310.9,1084.1 1311.3,1069.9 1311.7,1057.0C1312.1,1044.1 1312.7,1032.5 1313.0,1018.3C1313.4,1000.9 1313.6,978.3 1313.8,960.0C1314.0,943.8 1314.1,929.5 1314.2,914.2" fill="none" stroke="#ff0000" stroke-width="2.9" stroke-dasharray="5.95 10.85" stroke-linecap="round" stroke-linejoin="round" clip-path="url(#cE)"/>
<path d="M787.8,914.2C787.9,926.1 788.1,937.6 788.2,950.0C788.4,963.6 788.5,976.2 788.7,992.5C788.9,1014.5 789.0,1046.7 789.4,1069.9C789.7,1088.9 789.8,1107.3 790.7,1121.6C791.3,1131.7 791.5,1140.4 793.2,1147.4C794.5,1152.5 796.0,1157.0 798.4,1160.3C800.5,1163.1 802.9,1165.1 806.1,1166.7C810.2,1168.8 815.2,1169.8 821.6,1170.6C831.5,1171.9 840.3,1171.0 860.0,1171.2L1291.0,1171.1C1295.6,1170.6 1296.7,1170.7 1298.8,1169.3C1301.0,1167.9 1302.5,1165.7 1303.9,1162.9C1305.8,1159.0 1306.8,1153.3 1307.8,1147.4C1309.1,1139.9 1309.8,1131.1 1310.4,1121.6C1311.2,1110.0 1311.4,1097.4 1311.7,1082.8C1312.1,1064.0 1312.3,1038.6 1312.5,1018.3C1312.7,1000.1 1312.8,983.9 1313.0,966.6C1313.2,949.2 1313.3,931.7 1313.5,914.2" fill="none" stroke="#0000ff" stroke-width="2.9" stroke-dasharray="0.7 7.98" stroke-linecap="round" stroke-linejoin="round" clip-path="url(#cE)"/>
<path d="M788.3,914.2C788.4,926.1 788.5,937.6 788.6,950.0C788.7,963.6 788.9,976.2 788.9,992.5C788.9,1014.5 788.2,1046.7 788.6,1069.9C788.9,1088.9 789.6,1105.6 790.7,1121.6C791.7,1135.4 792.9,1148.1 794.5,1160.3C796.0,1171.2 797.5,1182.0 799.7,1191.3C801.5,1199.1 803.5,1206.2 806.1,1212.5C808.4,1218.0 810.5,1223.4 813.9,1227.4C817.0,1231.1 821.2,1233.6 825.2,1236.0C829.0,1238.3 832.6,1240.0 837.1,1241.5C842.4,1243.3 848.8,1244.5 855.2,1245.5C862.4,1246.6 869.5,1246.8 878.4,1247.3C890.3,1247.9 904.4,1248.2 920.0,1248.5C940.1,1248.9 964.0,1249.2 988.9,1249.3L1085.2,1249.3C1111.0,1249.1 1140.1,1248.9 1157.4,1248.1C1167.1,1247.7 1172.2,1247.0 1180.0,1246.5C1188.3,1246.0 1197.2,1245.8 1205.8,1245.0C1214.4,1244.2 1223.5,1243.2 1231.6,1241.5C1238.9,1239.9 1246.0,1237.9 1252.3,1235.5C1257.9,1233.3 1262.9,1230.7 1267.8,1228.0C1272.4,1225.4 1277.0,1223.4 1280.7,1219.7C1284.8,1215.6 1288.0,1209.7 1291.0,1204.2C1294.1,1198.5 1296.7,1192.4 1298.8,1186.1C1301.0,1179.5 1302.4,1172.6 1303.9,1165.5C1305.5,1158.0 1306.8,1150.7 1307.8,1142.2C1309.0,1132.1 1309.8,1120.3 1310.4,1108.7C1311.1,1096.2 1311.3,1085.0 1311.7,1069.9C1312.2,1048.5 1312.5,1018.4 1312.7,992.5C1313.0,966.5 1313.0,940.3 1313.2,914.2" fill="none" stroke="#00ffff" stroke-width="2.9" stroke-dasharray="9.1 8.9 0.9 9.5" stroke-linecap="round" stroke-linejoin="round" clip-path="url(#cE)"/>
<line x1="818.2" y1="1000.0" x2="863.3" y2="1000.0" stroke="#000000" stroke-width="2.9" stroke-linecap="round"/>
<line x1="818.1" y1="1055.6" x2="863.3" y2="1055.6" stroke="#0000ff" stroke-width="2.9" stroke-dasharray="0.7 7.98" stroke-linecap="round"/>
<line x1="1067.4" y1="1000.0" x2="1106.6" y2="1000.0" stroke="#ff0000" stroke-width="2.9" stroke-dasharray="5.95 10.85" stroke-linecap="round"/>
<line x1="1064.5" y1="1055.6" x2="1103" y2="1055.6" stroke="#00ffff" stroke-width="2.9" stroke-dasharray="9.1 8.9 0.9 9.5" stroke-linecap="round"/>
<text x="884.00" y="1013.70" text-anchor="start" font-size="40" ><tspan font-style="italic">E</tspan>~-0.226<tspan font-style="italic">t</tspan></text>
<text x="884.00" y="1068.30" text-anchor="start" font-size="40" ><tspan font-style="italic">E</tspan>~0.384<tspan font-style="italic">t</tspan></text>
<text x="1133.80" y="1013.70" text-anchor="start" font-size="40" ><tspan font-style="italic">E</tspan>~0.217<tspan font-style="italic">t</tspan></text>
<text x="1131.90" y="1068.30" text-anchor="start" font-size="40" ><tspan font-style="italic">E</tspan>~0.582<tspan font-style="italic">t</tspan></text>
<text x="81.00" y="402.80" text-anchor="middle" font-size="40" >-1.2</text>
<text x="392.18" y="402.80" text-anchor="middle" font-size="40" >-0.6</text>
<text x="703.35" y="402.80" text-anchor="middle" font-size="40" >0.0</text>
<text x="1014.53" y="402.80" text-anchor="middle" font-size="40" >0.6</text>
<text x="1325.70" y="402.80" text-anchor="middle" font-size="40" >1.2</text>
<text x="76.70" y="850.70" text-anchor="middle" font-size="40" >-1.2</text>
<text x="216.60" y="850.70" text-anchor="middle" font-size="40" >-0.6</text>
<text x="356.50" y="850.70" text-anchor="middle" font-size="40" >0.0</text>
<text x="496.40" y="850.70" text-anchor="middle" font-size="40" >0.6</text>
<text x="636.30" y="850.70" text-anchor="middle" font-size="40" >1.2</text>
<text x="769.30" y="850.70" text-anchor="middle" font-size="40" >-1.2</text>
<text x="908.88" y="850.70" text-anchor="middle" font-size="40" >-0.6</text>
<text x="1048.45" y="850.70" text-anchor="middle" font-size="40" >0.0</text>
<text x="1188.02" y="850.70" text-anchor="middle" font-size="40" >0.6</text>
<text x="1327.60" y="850.70" text-anchor="middle" font-size="40" >1.2</text>
<text x="785.70" y="1308.50" text-anchor="middle" font-size="40" >0.0</text>
<text x="891.22" y="1308.50" text-anchor="middle" font-size="40" >0.2</text>
<text x="996.74" y="1308.50" text-anchor="middle" font-size="40" >0.4</text>
<text x="1102.26" y="1308.50" text-anchor="middle" font-size="40" >0.6</text>
<text x="1207.78" y="1308.50" text-anchor="middle" font-size="40" >0.8</text>
<text x="1313.30" y="1308.50" text-anchor="middle" font-size="40" >1.0</text>
<text x="49.50" y="1316.00" text-anchor="start" font-size="40" >10</text>
<text x="89.60" y="1298.30" text-anchor="start" font-size="27" >1</text>
<text x="161.46" y="1316.00" text-anchor="start" font-size="40" >10</text>
<text x="201.56" y="1298.30" text-anchor="start" font-size="27" >2</text>
<text x="273.42" y="1316.00" text-anchor="start" font-size="40" >10</text>
<text x="313.52" y="1298.30" text-anchor="start" font-size="27" >3</text>
<text x="385.38" y="1316.00" text-anchor="start" font-size="40" >10</text>
<text x="425.48" y="1298.30" text-anchor="start" font-size="27" >4</text>
<text x="497.34" y="1316.00" text-anchor="start" font-size="40" >10</text>
<text x="537.44" y="1298.30" text-anchor="start" font-size="27" >5</text>
<text x="609.30" y="1316.00" text-anchor="start" font-size="40" >10</text>
<text x="649.40" y="1298.30" text-anchor="start" font-size="27" >6</text>
<text x="62.20" y="349.50" text-anchor="end" font-size="40" >0</text>
<text x="62.20" y="158.50" text-anchor="end" font-size="40" >1</text>
<text x="63.60" y="803.60" text-anchor="end" font-size="40" >0</text>
<text x="63.60" y="643.50" text-anchor="end" font-size="40" >1</text>
<text x="63.60" y="483.40" text-anchor="end" font-size="40" >2</text>
<text x="754.60" y="803.60" text-anchor="end" font-size="40" >0</text>
<text x="754.60" y="643.50" text-anchor="end" font-size="40" >1</text>
<text x="754.60" y="483.40" text-anchor="end" font-size="40" >2</text>
<text x="63.60" y="1261.00" text-anchor="end" font-size="40" >0</text>
<text x="63.60" y="1104.10" text-anchor="end" font-size="40" >2</text>
<text x="63.60" y="947.20" text-anchor="end" font-size="40" >4</text>
<text x="756.60" y="1261.00" text-anchor="end" font-size="40" >0</text>
<text x="756.60" y="1104.10" text-anchor="end" font-size="40" >2</text>
<text x="756.60" y="947.20" text-anchor="end" font-size="40" >4</text>
<text x="702.80" y="439.80" text-anchor="middle" font-size="40" ><tspan font-style="italic">E</tspan> (<tspan font-style="italic">t</tspan>)</text>
<text x="355.80" y="889.20" text-anchor="middle" font-size="40" ><tspan font-style="italic">E</tspan> (<tspan font-style="italic">t</tspan>)</text>
<text x="1048.50" y="889.20" text-anchor="middle" font-size="40" ><tspan font-style="italic">E</tspan> (<tspan font-style="italic">t</tspan>)</text>
<text x="355.60" y="1349.50" text-anchor="middle" font-size="40" ><tspan font-style="italic">L</tspan></text>
<text x="1047.80" y="1348.60" text-anchor="middle" font-size="40" ><tspan font-style="italic">p</tspan></text>
<text x="1278.00" y="46.60" text-anchor="middle" font-size="40" >(a)</text>
<text x="589.50" y="503.00" text-anchor="middle" font-size="40" >(b)</text>
<text x="1277.50" y="501.50" text-anchor="middle" font-size="40" >(c)</text>
<text x="587.80" y="961.20" text-anchor="middle" font-size="40" >(d)</text>
<text x="1284.20" y="959.80" text-anchor="middle" font-size="40" >(e)</text>
<g transform="translate(36.9,242.6) rotate(-90)"><path d="M8.5,-27.7 L0,-10.9 L8.5,5.9 M40.9,-27.7 L48.7,-10.9 L40.9,5.9" fill="none" stroke="#000" stroke-width="2.3" stroke-linejoin="miter"/><text x="11.3" y="0" font-size="40" font-style="italic">G</text><text x="60.7" y="0" font-size="40">(2e<tspan font-size="27" dy="-15">2</tspan><tspan dy="15">/h)</tspan></text></g>
<g transform="translate(34.6,697.1) rotate(-90)"><path d="M8.5,-27.7 L0,-10.9 L8.5,5.9 M40.9,-27.7 L48.7,-10.9 L40.9,5.9" fill="none" stroke="#000" stroke-width="2.3" stroke-linejoin="miter"/><text x="11.3" y="0" font-size="40" font-style="italic">G</text><text x="60.7" y="0" font-size="40">(2e<tspan font-size="27" dy="-15">2</tspan><tspan dy="15">/h)</tspan></text></g>
<g transform="translate(726.0,697.0) rotate(-90)"><path d="M8.5,-27.7 L0,-10.9 L8.5,5.9 M40.9,-27.7 L48.7,-10.9 L40.9,5.9" fill="none" stroke="#000" stroke-width="2.3" stroke-linejoin="miter"/><text x="11.3" y="0" font-size="40" font-style="italic">G</text><text x="60.7" y="0" font-size="40">(2e<tspan font-size="27" dy="-15">2</tspan><tspan dy="15">/h)</tspan></text></g>
<g transform="translate(34.8,1155.6) rotate(-90)"><path d="M8.5,-27.7 L0,-10.9 L8.5,5.9 M40.9,-27.7 L48.7,-10.9 L40.9,5.9" fill="none" stroke="#000" stroke-width="2.3" stroke-linejoin="miter"/><text x="11.3" y="0" font-size="40" font-style="italic">G</text><text x="60.7" y="0" font-size="40">(2e<tspan font-size="27" dy="-15">2</tspan><tspan dy="15">/h)</tspan></text></g>
<g transform="translate(727.5,1155.6) rotate(-90)"><path d="M8.5,-27.7 L0,-10.9 L8.5,5.9 M40.9,-27.7 L48.7,-10.9 L40.9,5.9" fill="none" stroke="#000" stroke-width="2.3" stroke-linejoin="miter"/><text x="11.3" y="0" font-size="40" font-style="italic">G</text><text x="60.7" y="0" font-size="40">(2e<tspan font-size="27" dy="-15">2</tspan><tspan dy="15">/h)</tspan></text></g>
</svg></body></html>
